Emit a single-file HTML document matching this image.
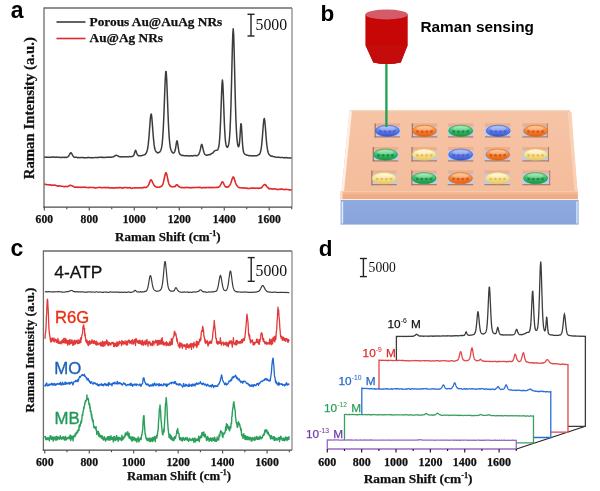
<!DOCTYPE html><html><head><meta charset="utf-8"><style>html,body{margin:0;padding:0;background:#fff;width:600px;height:491px;overflow:hidden}svg{display:block;will-change:transform}</style></head><body><svg width="600" height="491" viewBox="0 0 600 491">
<line x1="44" y1="8" x2="292" y2="8" stroke="#6a6a6a" stroke-width="1.3"/>
<line x1="292" y1="8" x2="292" y2="207.2" stroke="#8a8a8a" stroke-width="1.3"/>
<line x1="44" y1="7.4" x2="44" y2="207.79999999999998" stroke="#6a6a6a" stroke-width="1.3"/>
<line x1="43.4" y1="207.2" x2="292" y2="207.2" stroke="#4a4a4a" stroke-width="1.2"/>
<line x1="44.30" y1="207.2" x2="44.30" y2="210.6" stroke="#4a4a4a" stroke-width="1.1"/>
<text x="44.30" y="222.6" font-family="'Liberation Serif', serif" font-weight="bold" stroke="#111" stroke-width="0.25" font-size="11.6" text-anchor="middle" fill="#111">600</text>
<line x1="66.79" y1="207.2" x2="66.79" y2="209.2" stroke="#4a4a4a" stroke-width="1.1"/>
<line x1="89.28" y1="207.2" x2="89.28" y2="210.6" stroke="#4a4a4a" stroke-width="1.1"/>
<text x="89.28" y="222.6" font-family="'Liberation Serif', serif" font-weight="bold" stroke="#111" stroke-width="0.25" font-size="11.6" text-anchor="middle" fill="#111">800</text>
<line x1="111.77" y1="207.2" x2="111.77" y2="209.2" stroke="#4a4a4a" stroke-width="1.1"/>
<line x1="134.26" y1="207.2" x2="134.26" y2="210.6" stroke="#4a4a4a" stroke-width="1.1"/>
<text x="134.26" y="222.6" font-family="'Liberation Serif', serif" font-weight="bold" stroke="#111" stroke-width="0.25" font-size="11.6" text-anchor="middle" fill="#111">1000</text>
<line x1="156.75" y1="207.2" x2="156.75" y2="209.2" stroke="#4a4a4a" stroke-width="1.1"/>
<line x1="179.24" y1="207.2" x2="179.24" y2="210.6" stroke="#4a4a4a" stroke-width="1.1"/>
<text x="179.24" y="222.6" font-family="'Liberation Serif', serif" font-weight="bold" stroke="#111" stroke-width="0.25" font-size="11.6" text-anchor="middle" fill="#111">1200</text>
<line x1="201.73" y1="207.2" x2="201.73" y2="209.2" stroke="#4a4a4a" stroke-width="1.1"/>
<line x1="224.22" y1="207.2" x2="224.22" y2="210.6" stroke="#4a4a4a" stroke-width="1.1"/>
<text x="224.22" y="222.6" font-family="'Liberation Serif', serif" font-weight="bold" stroke="#111" stroke-width="0.25" font-size="11.6" text-anchor="middle" fill="#111">1400</text>
<line x1="246.71" y1="207.2" x2="246.71" y2="209.2" stroke="#4a4a4a" stroke-width="1.1"/>
<line x1="269.20" y1="207.2" x2="269.20" y2="210.6" stroke="#4a4a4a" stroke-width="1.1"/>
<text x="269.20" y="222.6" font-family="'Liberation Serif', serif" font-weight="bold" stroke="#111" stroke-width="0.25" font-size="11.6" text-anchor="middle" fill="#111">1600</text>
<line x1="291.69" y1="207.2" x2="291.69" y2="209.2" stroke="#4a4a4a" stroke-width="1.1"/>
<text x="10.8" y="17.6" font-family="'Liberation Sans', sans-serif" font-weight="bold" font-size="23" fill="#000">a</text>
<line x1="56.5" y1="22" x2="85.5" y2="22" stroke="#3c3c3c" stroke-width="1.6"/>
<line x1="56.5" y1="38.5" x2="85.5" y2="38.5" stroke="#e02a2a" stroke-width="1.6"/>
<text x="89.6" y="25.8" font-family="'Liberation Serif', serif" font-weight="bold" stroke="#111" stroke-width="0.25" font-size="13.3" fill="#111">Porous Au@AuAg NRs</text>
<text x="89.6" y="42.1" font-family="'Liberation Serif', serif" font-weight="bold" stroke="#111" stroke-width="0.25" font-size="13.3" fill="#111">Au@Ag NRs</text>
<line x1="251" y1="14.3" x2="251" y2="36" stroke="#222" stroke-width="1.4"/><line x1="247.5" y1="14.3" x2="254.5" y2="14.3" stroke="#222" stroke-width="1.4"/><line x1="247.5" y1="36" x2="254.5" y2="36" stroke="#222" stroke-width="1.4"/><text x="255.5" y="30.4" font-family="'Liberation Serif', serif" font-size="15.8" fill="#111">5000</text>
<text transform="translate(34.3,179.3) rotate(-90)" font-family="'Liberation Serif', serif" font-weight="bold" stroke="#111" stroke-width="0.25" font-size="14.8" fill="#111">Raman Intensity (a.u.)</text>
<text x="115" y="241" font-family="'Liberation Serif', serif" font-weight="bold" stroke="#111" stroke-width="0.25" font-size="13" fill="#111">Raman Shift (cm<tspan font-size="8.1" dy="-5.2">-1</tspan><tspan dy="5.2">)</tspan></text>
<path d="M44.30,157.29 44.75,157.27 45.20,157.20 45.65,157.14 46.10,157.08 46.55,157.17 47.00,157.32 47.45,157.37 47.90,157.32 48.35,157.25 48.80,157.32 49.25,157.39 49.70,157.28 50.15,157.25 50.60,157.30 51.05,157.27 51.50,157.24 51.95,157.03 52.40,157.03 52.85,156.92 53.30,157.07 53.75,157.07 54.20,157.25 54.65,157.29 55.10,157.38 55.54,157.15 55.99,157.10 56.44,157.11 56.89,157.33 57.34,157.26 57.79,157.22 58.24,157.13 58.69,157.20 59.14,157.33 59.59,157.34 60.04,157.41 60.49,157.39 60.94,157.41 61.39,157.40 61.84,157.34 62.29,157.39 62.74,157.29 63.19,157.29 63.64,157.39 64.09,157.35 64.54,157.41 64.99,157.29 65.44,157.34 65.89,157.41 66.34,157.42 66.79,157.31 67.24,157.05 67.69,156.85 68.14,156.64 68.59,156.22 69.04,155.50 69.49,154.72 69.94,153.86 70.39,153.03 70.84,152.68 71.29,152.84 71.74,153.69 72.19,154.51 72.64,155.36 73.09,156.01 73.54,156.66 73.99,157.12 74.44,157.21 74.89,157.19 75.34,157.22 75.79,157.21 76.24,157.27 76.69,157.24 77.14,157.54 77.59,157.65 78.03,157.65 78.48,157.53 78.93,157.47 79.38,157.63 79.83,157.64 80.28,157.65 80.73,157.56 81.18,157.59 81.63,157.61 82.08,157.50 82.53,157.51 82.98,157.50 83.43,157.70 83.88,157.76 84.33,157.80 84.78,157.76 85.23,157.69 85.68,157.78 86.13,157.73 86.58,157.81 87.03,157.62 87.48,157.66 87.93,157.48 88.38,157.42 88.83,157.37 89.28,157.44 89.73,157.61 90.18,157.82 90.63,157.82 91.08,157.74 91.53,157.56 91.98,157.67 92.43,157.69 92.88,157.65 93.33,157.66 93.78,157.71 94.23,157.63 94.68,157.56 95.13,157.51 95.58,157.50 96.03,157.52 96.48,157.43 96.93,157.59 97.38,157.58 97.83,157.65 98.28,157.51 98.73,157.47 99.18,157.29 99.63,157.24 100.08,157.27 100.52,157.25 100.97,157.40 101.42,157.22 101.87,157.45 102.32,157.29 102.77,157.49 103.22,157.43 103.67,157.36 104.12,157.39 104.57,157.49 105.02,157.60 105.47,157.46 105.92,157.32 106.37,157.23 106.82,157.33 107.27,157.29 107.72,157.35 108.17,157.18 108.62,157.16 109.07,157.04 109.52,157.20 109.97,157.22 110.42,157.39 110.87,157.26 111.32,157.19 111.77,157.04 112.22,156.95 112.67,156.93 113.12,156.82 113.57,156.69 114.02,156.37 114.47,156.07 114.92,155.93 115.37,155.68 115.82,155.42 116.27,155.20 116.72,155.46 117.17,155.65 117.62,155.88 118.07,155.99 118.52,156.21 118.97,156.47 119.42,156.65 119.87,156.89 120.32,156.81 120.77,156.88 121.22,156.84 121.67,156.89 122.12,156.76 122.57,156.70 123.01,156.82 123.46,156.86 123.91,156.97 124.36,156.85 124.81,156.84 125.26,156.76 125.71,156.80 126.16,156.80 126.61,156.81 127.06,156.74 127.51,156.84 127.96,156.89 128.41,156.90 128.86,156.73 129.31,156.53 129.76,156.54 130.21,156.64 130.66,156.70 131.11,156.62 131.56,156.54 132.01,156.55 132.46,156.48 132.91,156.20 133.36,155.93 133.81,155.11 134.26,154.11 134.71,152.45 135.16,150.97 135.61,150.26 136.06,151.09 136.51,152.52 136.96,153.74 137.41,154.73 137.86,155.32 138.31,155.73 138.76,155.84 139.21,155.82 139.66,155.65 140.11,155.58 140.56,155.68 141.01,155.79 141.46,155.71 141.91,155.55 142.36,155.36 142.81,155.24 143.26,155.10 143.71,154.94 144.16,154.82 144.61,154.68 145.06,154.58 145.50,154.09 145.95,153.54 146.40,152.70 146.85,151.63 147.30,150.10 147.75,147.80 148.20,144.67 148.65,140.41 149.10,135.37 149.55,129.20 150.00,123.05 150.45,117.51 150.90,114.39 151.35,114.15 151.80,117.26 152.25,122.60 152.70,128.81 153.15,134.78 153.60,139.87 154.05,144.13 154.50,147.24 154.95,149.28 155.40,150.59 155.85,151.36 156.30,151.84 156.75,152.18 157.20,152.62 157.65,152.94 158.10,152.85 158.55,152.54 159.00,152.43 159.45,152.24 159.90,151.89 160.35,151.18 160.80,150.26 161.25,148.95 161.70,146.91 162.15,143.77 162.60,139.01 163.05,132.54 163.50,123.92 163.95,113.50 164.40,101.24 164.85,88.83 165.30,77.96 165.75,71.51 166.20,71.67 166.65,78.26 167.10,89.12 167.55,101.51 168.00,113.56 168.44,123.99 168.89,132.52 169.34,138.96 169.79,143.82 170.24,146.87 170.69,148.97 171.14,150.34 171.59,151.45 172.04,152.14 172.49,152.59 172.94,152.90 173.39,152.97 173.84,152.89 174.29,152.24 174.74,151.53 175.19,150.04 175.64,147.85 176.09,144.79 176.54,141.96 176.99,140.77 177.44,142.02 177.89,144.95 178.34,148.13 178.79,150.91 179.24,152.81 179.69,153.94 180.14,154.42 180.59,154.69 181.04,155.06 181.49,155.31 181.94,155.49 182.39,155.42 182.84,155.36 183.29,155.42 183.74,155.57 184.19,155.68 184.64,155.70 185.09,155.65 185.54,155.72 185.99,155.63 186.44,155.65 186.89,155.58 187.34,155.80 187.79,155.77 188.24,155.90 188.69,155.96 189.14,156.00 189.59,155.91 190.04,155.80 190.49,155.82 190.93,155.79 191.38,155.80 191.83,155.97 192.28,156.02 192.73,155.95 193.18,155.68 193.63,155.71 194.08,155.59 194.53,155.56 194.98,155.61 195.43,155.59 195.88,155.73 196.33,155.68 196.78,155.70 197.23,155.55 197.68,155.42 198.13,155.12 198.58,154.59 199.03,153.61 199.48,152.53 199.93,151.16 200.38,149.39 200.83,147.17 201.28,145.17 201.73,144.31 202.18,145.13 202.63,146.95 203.08,149.12 203.53,151.05 203.98,152.55 204.43,153.59 204.88,154.26 205.33,154.67 205.78,154.93 206.23,155.19 206.68,155.31 207.13,155.29 207.58,154.99 208.03,154.95 208.48,154.73 208.93,154.68 209.38,154.61 209.83,154.69 210.28,154.62 210.73,154.18 211.18,153.83 211.63,153.48 212.08,153.32 212.53,153.15 212.97,152.81 213.42,152.26 213.87,151.55 214.32,151.14 214.77,150.85 215.22,150.58 215.67,150.41 216.12,150.19 216.57,150.25 217.02,150.16 217.47,150.05 217.92,149.36 218.37,148.28 218.82,146.33 219.27,143.17 219.72,138.00 220.17,130.33 220.62,119.99 221.07,107.63 221.52,94.66 221.97,84.16 222.42,79.89 222.87,83.88 223.32,94.26 223.77,107.09 224.22,119.55 224.67,129.68 225.12,137.15 225.57,142.06 226.02,144.96 226.47,146.40 226.92,147.15 227.37,147.37 227.82,146.86 228.27,145.90 228.72,144.10 229.17,141.37 229.62,136.43 230.07,129.09 230.52,118.47 230.97,104.78 231.42,87.56 231.87,68.43 232.32,49.18 232.77,34.63 233.22,28.79 233.67,34.46 234.12,49.20 234.57,68.31 235.02,87.87 235.46,105.13 235.91,119.16 236.36,129.53 236.81,136.81 237.26,141.73 237.71,144.74 238.16,146.37 238.61,146.81 239.06,145.75 239.51,142.58 239.96,136.95 240.41,129.74 240.86,123.82 241.31,124.19 241.76,130.69 242.21,138.88 242.66,145.46 243.11,149.59 243.56,152.04 244.01,153.07 244.46,153.81 244.91,154.09 245.36,154.42 245.81,154.68 246.26,154.90 246.71,155.18 247.16,155.27 247.61,155.32 248.06,155.37 248.51,155.47 248.96,155.72 249.41,155.72 249.86,155.77 250.31,155.60 250.76,155.77 251.21,155.72 251.66,155.74 252.11,155.71 252.56,155.90 253.01,155.94 253.46,155.85 253.91,155.69 254.36,155.71 254.81,155.81 255.26,155.77 255.71,155.76 256.16,155.71 256.61,155.64 257.06,155.64 257.51,155.39 257.95,155.19 258.40,154.80 258.85,154.74 259.30,154.40 259.75,153.94 260.20,152.80 260.65,151.33 261.10,149.05 261.55,146.01 262.00,141.64 262.45,136.23 262.90,130.07 263.35,124.25 263.80,119.99 264.25,118.45 264.70,120.21 265.15,124.51 265.60,130.24 266.05,136.39 266.50,141.57 266.95,145.95 267.40,148.98 267.85,151.59 268.30,153.00 268.75,154.08 269.20,154.54 269.65,155.01 270.10,155.48 270.55,155.93 271.00,156.18 271.45,156.17 271.90,156.08 272.35,156.21 272.80,156.39 273.25,156.64 273.70,156.75 274.15,156.74 274.60,156.81 275.05,156.88 275.50,157.14 275.95,157.36 276.40,157.40 276.85,157.28 277.30,157.16 277.75,157.17 278.20,157.21 278.65,157.25 279.10,157.25 279.55,157.40 280.00,157.43 280.44,157.57 280.89,157.53 281.34,157.51 281.79,157.44 282.24,157.46 282.69,157.51 283.14,157.63 283.59,157.68 284.04,157.64 284.49,157.65 284.94,157.56 285.39,157.65 285.84,157.64 286.29,157.60 286.74,157.68 287.19,157.74 287.64,157.93 288.09,157.91 288.54,157.88 288.99,157.84 289.44,157.87 289.89,157.88 290.34,157.99 290.79,157.93 291.24,158.02 291.69,158.03" fill="none" stroke="#3c3c3c" stroke-width="1.5" stroke-linejoin="round"/>
<path d="M44.30,184.29 44.75,184.30 45.20,184.39 45.65,184.29 46.10,184.43 46.55,184.45 47.00,184.69 47.45,184.73 47.90,184.69 48.35,184.69 48.80,184.76 49.25,184.92 49.70,185.02 50.15,184.85 50.60,184.91 51.05,185.06 51.50,185.36 51.95,185.38 52.40,185.16 52.85,185.20 53.30,185.21 53.75,185.16 54.20,185.16 54.65,185.07 55.10,185.24 55.54,185.19 55.99,185.52 56.44,185.66 56.89,185.80 57.34,185.90 57.79,186.14 58.24,186.15 58.69,186.00 59.14,185.77 59.59,185.76 60.04,185.87 60.49,186.09 60.94,186.22 61.39,186.32 61.84,186.25 62.29,186.28 62.74,186.30 63.19,186.48 63.64,186.64 64.09,186.65 64.54,186.61 64.99,186.58 65.44,186.48 65.89,186.38 66.34,186.43 66.79,186.55 67.24,186.71 67.69,186.41 68.14,186.28 68.59,186.04 69.04,185.93 69.49,185.52 69.94,185.32 70.39,185.32 70.84,185.52 71.29,185.58 71.74,185.70 72.19,185.99 72.64,186.03 73.09,186.24 73.54,186.39 73.99,186.86 74.44,187.14 74.89,187.26 75.34,187.27 75.79,187.16 76.24,187.16 76.69,187.10 77.14,187.08 77.59,187.12 78.03,187.38 78.48,187.39 78.93,187.31 79.38,187.15 79.83,187.32 80.28,187.34 80.73,187.48 81.18,187.27 81.63,187.27 82.08,187.12 82.53,187.31 82.98,187.44 83.43,187.33 83.88,187.17 84.33,187.12 84.78,187.22 85.23,187.17 85.68,187.25 86.13,187.38 86.58,187.60 87.03,187.46 87.48,187.53 87.93,187.47 88.38,187.64 88.83,187.46 89.28,187.42 89.73,187.33 90.18,187.36 90.63,187.52 91.08,187.53 91.53,187.51 91.98,187.45 92.43,187.40 92.88,187.59 93.33,187.52 93.78,187.52 94.23,187.55 94.68,187.84 95.13,188.09 95.58,187.98 96.03,187.79 96.48,187.75 96.93,187.73 97.38,187.62 97.83,187.48 98.28,187.54 98.73,187.56 99.18,187.39 99.63,187.21 100.08,187.36 100.52,187.45 100.97,187.59 101.42,187.55 101.87,187.69 102.32,187.68 102.77,187.71 103.22,187.56 103.67,187.57 104.12,187.42 104.57,187.63 105.02,187.66 105.47,187.70 105.92,187.55 106.37,187.54 106.82,187.69 107.27,187.57 107.72,187.49 108.17,187.39 108.62,187.81 109.07,188.01 109.52,188.04 109.97,187.86 110.42,187.98 110.87,187.97 111.32,187.87 111.77,187.79 112.22,187.87 112.67,187.97 113.12,187.81 113.57,187.95 114.02,188.06 114.47,188.17 114.92,188.05 115.37,187.69 115.82,187.70 116.27,187.61 116.72,187.86 117.17,187.87 117.62,187.86 118.07,187.66 118.52,187.63 118.97,187.59 119.42,187.73 119.87,187.64 120.32,187.68 120.77,187.49 121.22,187.68 121.67,187.74 122.12,188.09 122.57,188.17 123.01,188.15 123.46,187.86 123.91,187.58 124.36,187.46 124.81,187.59 125.26,187.69 125.71,187.62 126.16,187.71 126.61,187.55 127.06,187.78 127.51,187.74 127.96,187.87 128.41,187.83 128.86,187.79 129.31,187.77 129.76,187.61 130.21,187.66 130.66,187.91 131.11,188.28 131.56,188.42 132.01,188.31 132.46,188.04 132.91,188.06 133.36,187.98 133.81,188.05 134.26,187.87 134.71,187.88 135.16,187.84 135.61,187.85 136.06,187.73 136.51,187.72 136.96,187.95 137.41,188.05 137.86,188.05 138.31,187.86 138.76,187.93 139.21,187.83 139.66,187.75 140.11,187.75 140.56,187.88 141.01,187.89 141.46,187.94 141.91,187.83 142.36,187.80 142.81,187.57 143.26,187.76 143.71,187.52 144.16,187.47 144.61,187.23 145.06,187.43 145.50,187.49 145.95,187.59 146.40,187.22 146.85,187.04 147.30,186.57 147.75,186.22 148.20,185.59 148.65,184.73 149.10,183.61 149.55,182.39 150.00,181.17 150.45,180.31 150.90,179.78 151.35,179.95 151.80,180.76 152.25,181.68 152.70,182.63 153.15,183.50 153.60,184.39 154.05,185.20 154.50,185.90 154.95,186.33 155.40,186.53 155.85,186.73 156.30,186.89 156.75,187.18 157.20,187.15 157.65,187.23 158.10,187.19 158.55,187.29 159.00,187.23 159.45,187.21 159.90,187.05 160.35,186.75 160.80,186.54 161.25,186.23 161.70,186.03 162.15,185.36 162.60,184.74 163.05,183.60 163.50,182.12 163.95,179.94 164.40,177.78 164.85,175.72 165.30,173.94 165.75,172.85 166.20,172.79 166.65,174.04 167.10,175.84 167.55,178.07 168.00,180.23 168.44,182.41 168.89,183.80 169.34,184.79 169.79,185.25 170.24,185.98 170.69,186.28 171.14,186.55 171.59,186.63 172.04,186.75 172.49,186.78 172.94,186.78 173.39,186.69 173.84,186.62 174.29,186.55 174.74,186.60 175.19,186.42 175.64,185.82 176.09,185.19 176.54,184.76 176.99,184.77 177.44,185.06 177.89,185.45 178.34,186.06 178.79,186.50 179.24,186.82 179.69,186.89 180.14,187.21 180.59,187.42 181.04,187.66 181.49,187.49 181.94,187.59 182.39,187.42 182.84,187.47 183.29,187.63 183.74,187.78 184.19,187.75 184.64,187.50 185.09,187.46 185.54,187.63 185.99,187.60 186.44,187.39 186.89,187.24 187.34,187.29 187.79,187.48 188.24,187.64 188.69,187.67 189.14,187.74 189.59,187.50 190.04,187.55 190.49,187.68 190.93,187.86 191.38,187.80 191.83,187.61 192.28,187.71 192.73,187.59 193.18,187.56 193.63,187.42 194.08,187.59 194.53,187.55 194.98,187.53 195.43,187.43 195.88,187.48 196.33,187.44 196.78,187.35 197.23,187.33 197.68,187.43 198.13,187.44 198.58,187.42 199.03,187.39 199.48,187.38 199.93,187.42 200.38,187.24 200.83,187.46 201.28,187.66 201.73,187.97 202.18,187.84 202.63,187.69 203.08,187.51 203.53,187.55 203.98,187.63 204.43,187.50 204.88,187.60 205.33,187.44 205.78,187.72 206.23,187.64 206.68,187.58 207.13,187.48 207.58,187.54 208.03,187.61 208.48,187.64 208.93,187.52 209.38,187.30 209.83,187.35 210.28,187.47 210.73,187.70 211.18,187.62 211.63,187.66 212.08,187.60 212.53,187.52 212.97,187.39 213.42,187.55 213.87,187.48 214.32,187.61 214.77,187.42 215.22,187.44 215.67,187.43 216.12,187.46 216.57,187.42 217.02,187.22 217.47,187.27 217.92,187.44 218.37,187.31 218.82,187.07 219.27,186.72 219.72,186.25 220.17,185.62 220.62,184.74 221.07,183.83 221.52,182.80 221.97,182.07 222.42,181.83 222.87,182.10 223.32,182.78 223.77,183.81 224.22,184.79 224.67,185.70 225.12,186.31 225.57,186.76 226.02,187.16 226.47,187.10 226.92,187.17 227.37,186.90 227.82,187.08 228.27,187.00 228.72,186.57 229.17,185.88 229.62,185.20 230.07,184.70 230.52,183.87 230.97,182.58 231.42,181.18 231.87,179.74 232.32,178.44 232.77,177.56 233.22,176.93 233.67,177.37 234.12,178.13 234.57,179.78 235.02,181.15 235.46,182.56 235.91,183.74 236.36,184.71 236.81,185.52 237.26,185.94 237.71,186.48 238.16,186.93 238.61,187.41 239.06,187.56 239.51,187.73 239.96,187.72 240.41,187.79 240.86,187.80 241.31,187.96 241.76,187.97 242.21,187.93 242.66,187.84 243.11,187.91 243.56,187.88 244.01,188.02 244.46,188.00 244.91,188.15 245.36,187.99 245.81,188.08 246.26,188.09 246.71,188.15 247.16,188.34 247.61,188.36 248.06,188.60 248.51,188.51 248.96,188.43 249.41,188.23 249.86,188.19 250.31,188.28 250.76,188.34 251.21,188.29 251.66,188.12 252.11,188.10 252.56,187.92 253.01,188.15 253.46,188.12 253.91,188.28 254.36,188.23 254.81,188.34 255.26,188.28 255.71,188.13 256.16,188.00 256.61,187.94 257.06,188.02 257.51,188.28 257.95,188.37 258.40,188.52 258.85,188.20 259.30,188.29 259.75,188.12 260.20,188.14 260.65,188.01 261.10,187.98 261.55,187.70 262.00,187.25 262.45,186.49 262.90,185.97 263.35,185.36 263.80,185.02 264.25,184.58 264.70,184.65 265.15,184.53 265.60,184.91 266.05,185.38 266.50,186.15 266.95,186.69 267.40,187.09 267.85,187.42 268.30,187.86 268.75,188.39 269.20,188.84 269.65,188.86 270.10,188.63 270.55,188.55 271.00,188.82 271.45,188.87 271.90,188.88 272.35,188.91 272.80,189.11 273.25,189.17 273.70,189.00 274.15,188.78 274.60,188.77 275.05,188.69 275.50,188.94 275.95,188.97 276.40,189.26 276.85,189.39 277.30,189.59 277.75,189.45 278.20,189.37 278.65,189.38 279.10,189.44 279.55,189.28 280.00,189.17 280.44,189.10 280.89,189.36 281.34,189.15 281.79,189.22 282.24,189.06 282.69,189.29 283.14,189.44 283.59,189.51 284.04,189.53 284.49,189.64 284.94,189.41 285.39,189.45 285.84,189.28 286.29,189.53 286.74,189.56 287.19,189.56 287.64,189.50 288.09,189.57 288.54,189.71 288.99,189.73 289.44,189.87 289.89,190.08 290.34,190.02 290.79,189.86 291.24,189.89 291.69,190.06" fill="none" stroke="#e02a2a" stroke-width="1.6" stroke-linejoin="round"/>
<text x="320.6" y="20.7" font-family="'Liberation Sans', sans-serif" font-weight="bold" font-size="22.5" fill="#000">b</text>
<text x="420.5" y="32.1" font-family="'Liberation Sans', sans-serif" font-weight="bold" font-size="15.35" fill="#000">Raman sensing</text>
<defs><linearGradient id="top" x1="0" y1="0" x2="0" y2="1"><stop offset="0" stop-color="#f6c4a6"/><stop offset="1" stop-color="#f4bd9c"/></linearGradient><linearGradient id="sub" x1="0" y1="0" x2="0" y2="1"><stop offset="0" stop-color="#8eaadf"/><stop offset="1" stop-color="#88a4da"/></linearGradient><linearGradient id="front" x1="0" y1="0" x2="0" y2="1"><stop offset="0" stop-color="#f7c09c"/><stop offset="0.5" stop-color="#f2ae86"/><stop offset="1" stop-color="#f0a87e"/></linearGradient></defs>
<polygon points="341.5,191.5 349.5,110 570,110 577.5,191.5" fill="url(#top)"/>
<polygon points="349.5,110 352,110.5 344,191.5 341.5,191.5" fill="#fdf0e6"/>
<polygon points="567.8,112 571.5,112 577.5,191.5 574.5,191.5" fill="#f9d2b6"/>
<line x1="350" y1="110.6" x2="569.5" y2="110.6" stroke="#fad6bd" stroke-width="1.2"/>
<rect x="340.3" y="191.3" width="237.6" height="7.8" fill="url(#front)"/>
<rect x="340.3" y="191.3" width="2.2" height="7.8" fill="#fde2c8"/>
<rect x="340.6" y="199.9" width="238" height="24.7" fill="url(#sub)"/>
<rect x="341.6" y="201.5" width="1.6" height="22" fill="#dcebfb"/>
<rect x="576.2" y="201.5" width="1.4" height="22" fill="#d8e6fa"/>
<rect x="374.7" y="123.4" width="25.4" height="14.0" fill="#bccbee"/>
<rect x="374.7" y="123.4" width="25.4" height="3.2" fill="#eeae8a"/>
<line x1="374.7" y1="136.9" x2="400.1" y2="136.9" stroke="#b0704c" stroke-width="1.1"/>
<line x1="375.2" y1="123.4" x2="375.2" y2="137.4" stroke="#a8684a" stroke-width="1.1"/>
<ellipse cx="387.4" cy="130.8" rx="12" ry="5.6" fill="url(#e0)" stroke="#3556cc" stroke-width="0.6"/>
<ellipse cx="387.4" cy="128.6" rx="8" ry="2.2" fill="#fff" opacity="0.28"/>
<circle cx="380.5" cy="131.6" r="1.35" fill="#6a4ac0" opacity="0.75"/>
<circle cx="385.1" cy="131.6" r="1.35" fill="#6a4ac0" opacity="0.75"/>
<circle cx="389.7" cy="131.6" r="1.35" fill="#6a4ac0" opacity="0.75"/>
<circle cx="394.3" cy="131.6" r="1.35" fill="#6a4ac0" opacity="0.75"/>
<rect x="411.8" y="123.4" width="25.4" height="14.0" fill="#bccbee"/>
<rect x="411.8" y="123.4" width="25.4" height="3.2" fill="#eeae8a"/>
<line x1="411.8" y1="136.9" x2="437.2" y2="136.9" stroke="#b0704c" stroke-width="1.1"/>
<line x1="412.3" y1="123.4" x2="412.3" y2="137.4" stroke="#a8684a" stroke-width="1.1"/>
<ellipse cx="424.5" cy="130.8" rx="12" ry="5.6" fill="url(#e1)" stroke="#e2600f" stroke-width="0.6"/>
<ellipse cx="424.5" cy="128.6" rx="8" ry="2.2" fill="#fff" opacity="0.28"/>
<circle cx="417.6" cy="131.6" r="1.35" fill="#d84418" opacity="0.75"/>
<circle cx="422.2" cy="131.6" r="1.35" fill="#d84418" opacity="0.75"/>
<circle cx="426.8" cy="131.6" r="1.35" fill="#d84418" opacity="0.75"/>
<circle cx="431.4" cy="131.6" r="1.35" fill="#d84418" opacity="0.75"/>
<rect x="448.0" y="123.4" width="25.4" height="14.0" fill="#bccbee"/>
<rect x="448.0" y="123.4" width="25.4" height="3.2" fill="#eeae8a"/>
<line x1="448.0" y1="136.9" x2="473.4" y2="136.9" stroke="#b0704c" stroke-width="1.1"/>
<ellipse cx="460.7" cy="130.8" rx="12" ry="5.6" fill="url(#e2)" stroke="#1a9242" stroke-width="0.6"/>
<ellipse cx="460.7" cy="128.6" rx="8" ry="2.2" fill="#fff" opacity="0.28"/>
<circle cx="453.8" cy="131.6" r="1.35" fill="#1c7a40" opacity="0.75"/>
<circle cx="458.4" cy="131.6" r="1.35" fill="#1c7a40" opacity="0.75"/>
<circle cx="463.0" cy="131.6" r="1.35" fill="#1c7a40" opacity="0.75"/>
<circle cx="467.6" cy="131.6" r="1.35" fill="#1c7a40" opacity="0.75"/>
<rect x="485.0" y="123.4" width="25.4" height="14.0" fill="#bccbee"/>
<rect x="485.0" y="123.4" width="25.4" height="3.2" fill="#eeae8a"/>
<line x1="485.0" y1="136.9" x2="510.4" y2="136.9" stroke="#b0704c" stroke-width="1.1"/>
<ellipse cx="498.2" cy="130.8" rx="12" ry="5.6" fill="url(#e3)" stroke="#3556cc" stroke-width="0.6"/>
<ellipse cx="498.2" cy="128.6" rx="8" ry="2.2" fill="#fff" opacity="0.28"/>
<circle cx="491.3" cy="131.6" r="1.35" fill="#6a4ac0" opacity="0.75"/>
<circle cx="495.9" cy="131.6" r="1.35" fill="#6a4ac0" opacity="0.75"/>
<circle cx="500.5" cy="131.6" r="1.35" fill="#6a4ac0" opacity="0.75"/>
<circle cx="505.1" cy="131.6" r="1.35" fill="#6a4ac0" opacity="0.75"/>
<rect x="522.4" y="123.4" width="25.4" height="14.0" fill="#bccbee"/>
<rect x="522.4" y="123.4" width="25.4" height="3.2" fill="#eeae8a"/>
<line x1="522.4" y1="136.9" x2="547.8" y2="136.9" stroke="#b0704c" stroke-width="1.1"/>
<line x1="547.3" y1="123.4" x2="547.3" y2="137.4" stroke="#b8785a" stroke-width="1"/>
<ellipse cx="535.6" cy="130.8" rx="12" ry="5.6" fill="url(#e4)" stroke="#e2600f" stroke-width="0.6"/>
<ellipse cx="535.6" cy="128.6" rx="8" ry="2.2" fill="#fff" opacity="0.28"/>
<circle cx="528.7" cy="131.6" r="1.35" fill="#d84418" opacity="0.75"/>
<circle cx="533.3" cy="131.6" r="1.35" fill="#d84418" opacity="0.75"/>
<circle cx="537.9" cy="131.6" r="1.35" fill="#d84418" opacity="0.75"/>
<circle cx="542.5" cy="131.6" r="1.35" fill="#d84418" opacity="0.75"/>
<rect x="372.8" y="147" width="25.4" height="14.4" fill="#bccbee"/>
<rect x="372.8" y="147" width="25.4" height="3.2" fill="#eeae8a"/>
<line x1="372.8" y1="160.9" x2="398.2" y2="160.9" stroke="#b0704c" stroke-width="1.1"/>
<line x1="373.3" y1="147.0" x2="373.3" y2="161.4" stroke="#a8684a" stroke-width="1.1"/>
<ellipse cx="385.5" cy="154.6" rx="12" ry="5.6" fill="url(#e5)" stroke="#1a9242" stroke-width="0.6"/>
<ellipse cx="385.5" cy="152.4" rx="8" ry="2.2" fill="#fff" opacity="0.28"/>
<circle cx="378.6" cy="155.4" r="1.35" fill="#1c7a40" opacity="0.75"/>
<circle cx="383.2" cy="155.4" r="1.35" fill="#1c7a40" opacity="0.75"/>
<circle cx="387.8" cy="155.4" r="1.35" fill="#1c7a40" opacity="0.75"/>
<circle cx="392.4" cy="155.4" r="1.35" fill="#1c7a40" opacity="0.75"/>
<rect x="411.6" y="147" width="25.4" height="14.4" fill="#bccbee"/>
<rect x="411.6" y="147" width="25.4" height="3.2" fill="#eeae8a"/>
<line x1="411.6" y1="160.9" x2="437.0" y2="160.9" stroke="#b0704c" stroke-width="1.1"/>
<line x1="412.1" y1="147.0" x2="412.1" y2="161.4" stroke="#a8684a" stroke-width="1.1"/>
<ellipse cx="424.3" cy="154.6" rx="12" ry="5.6" fill="url(#e6)" stroke="#ebc85a" stroke-width="0.6"/>
<ellipse cx="424.3" cy="152.4" rx="8" ry="2.2" fill="#fff" opacity="0.28"/>
<circle cx="417.4" cy="155.4" r="1.35" fill="#f0a850" opacity="0.75"/>
<circle cx="422.0" cy="155.4" r="1.35" fill="#f0a850" opacity="0.75"/>
<circle cx="426.6" cy="155.4" r="1.35" fill="#f0a850" opacity="0.75"/>
<circle cx="431.2" cy="155.4" r="1.35" fill="#f0a850" opacity="0.75"/>
<rect x="448.0" y="147" width="25.4" height="14.4" fill="#bccbee"/>
<rect x="448.0" y="147" width="25.4" height="3.2" fill="#eeae8a"/>
<line x1="448.0" y1="160.9" x2="473.4" y2="160.9" stroke="#b0704c" stroke-width="1.1"/>
<ellipse cx="460.7" cy="154.6" rx="12" ry="5.6" fill="url(#e7)" stroke="#3556cc" stroke-width="0.6"/>
<ellipse cx="460.7" cy="152.4" rx="8" ry="2.2" fill="#fff" opacity="0.28"/>
<circle cx="453.8" cy="155.4" r="1.35" fill="#6a4ac0" opacity="0.75"/>
<circle cx="458.4" cy="155.4" r="1.35" fill="#6a4ac0" opacity="0.75"/>
<circle cx="463.0" cy="155.4" r="1.35" fill="#6a4ac0" opacity="0.75"/>
<circle cx="467.6" cy="155.4" r="1.35" fill="#6a4ac0" opacity="0.75"/>
<rect x="484.6" y="147" width="25.4" height="14.4" fill="#bccbee"/>
<rect x="484.6" y="147" width="25.4" height="3.2" fill="#eeae8a"/>
<line x1="484.6" y1="160.9" x2="510.0" y2="160.9" stroke="#b0704c" stroke-width="1.1"/>
<ellipse cx="497.8" cy="154.6" rx="12" ry="5.6" fill="url(#e8)" stroke="#e2600f" stroke-width="0.6"/>
<ellipse cx="497.8" cy="152.4" rx="8" ry="2.2" fill="#fff" opacity="0.28"/>
<circle cx="490.9" cy="155.4" r="1.35" fill="#d84418" opacity="0.75"/>
<circle cx="495.5" cy="155.4" r="1.35" fill="#d84418" opacity="0.75"/>
<circle cx="500.1" cy="155.4" r="1.35" fill="#d84418" opacity="0.75"/>
<circle cx="504.7" cy="155.4" r="1.35" fill="#d84418" opacity="0.75"/>
<rect x="522.4" y="147" width="26.6" height="14.4" fill="#bccbee"/>
<rect x="522.4" y="147" width="26.6" height="3.2" fill="#eeae8a"/>
<line x1="522.4" y1="160.9" x2="549.0" y2="160.9" stroke="#b0704c" stroke-width="1.1"/>
<line x1="548.5" y1="147.0" x2="548.5" y2="161.4" stroke="#b8785a" stroke-width="1"/>
<ellipse cx="535.6" cy="154.6" rx="12" ry="5.6" fill="url(#e9)" stroke="#ebc85a" stroke-width="0.6"/>
<ellipse cx="535.6" cy="152.4" rx="8" ry="2.2" fill="#fff" opacity="0.28"/>
<circle cx="528.7" cy="155.4" r="1.35" fill="#f0a850" opacity="0.75"/>
<circle cx="533.3" cy="155.4" r="1.35" fill="#f0a850" opacity="0.75"/>
<circle cx="537.9" cy="155.4" r="1.35" fill="#f0a850" opacity="0.75"/>
<circle cx="542.5" cy="155.4" r="1.35" fill="#f0a850" opacity="0.75"/>
<rect x="371.4" y="170.4" width="25.4" height="14.8" fill="#bccbee"/>
<rect x="371.4" y="170.4" width="25.4" height="3.2" fill="#eeae8a"/>
<line x1="371.4" y1="184.7" x2="396.8" y2="184.7" stroke="#b0704c" stroke-width="1.1"/>
<line x1="371.9" y1="170.4" x2="371.9" y2="185.2" stroke="#a8684a" stroke-width="1.1"/>
<ellipse cx="384.1" cy="178.2" rx="12" ry="5.6" fill="url(#e10)" stroke="#ebc85a" stroke-width="0.6"/>
<ellipse cx="384.1" cy="176.0" rx="8" ry="2.2" fill="#fff" opacity="0.28"/>
<circle cx="377.2" cy="179.0" r="1.35" fill="#f0a850" opacity="0.75"/>
<circle cx="381.8" cy="179.0" r="1.35" fill="#f0a850" opacity="0.75"/>
<circle cx="386.4" cy="179.0" r="1.35" fill="#f0a850" opacity="0.75"/>
<circle cx="391.0" cy="179.0" r="1.35" fill="#f0a850" opacity="0.75"/>
<rect x="411.4" y="170.4" width="25.4" height="14.8" fill="#bccbee"/>
<rect x="411.4" y="170.4" width="25.4" height="3.2" fill="#eeae8a"/>
<line x1="411.4" y1="184.7" x2="436.8" y2="184.7" stroke="#b0704c" stroke-width="1.1"/>
<line x1="411.9" y1="170.4" x2="411.9" y2="185.2" stroke="#a8684a" stroke-width="1.1"/>
<ellipse cx="424.1" cy="178.2" rx="12" ry="5.6" fill="url(#e11)" stroke="#1a9242" stroke-width="0.6"/>
<ellipse cx="424.1" cy="176.0" rx="8" ry="2.2" fill="#fff" opacity="0.28"/>
<circle cx="417.2" cy="179.0" r="1.35" fill="#1c7a40" opacity="0.75"/>
<circle cx="421.8" cy="179.0" r="1.35" fill="#1c7a40" opacity="0.75"/>
<circle cx="426.4" cy="179.0" r="1.35" fill="#1c7a40" opacity="0.75"/>
<circle cx="431.0" cy="179.0" r="1.35" fill="#1c7a40" opacity="0.75"/>
<rect x="447.8" y="170.4" width="25.4" height="14.8" fill="#bccbee"/>
<rect x="447.8" y="170.4" width="25.4" height="3.2" fill="#eeae8a"/>
<line x1="447.8" y1="184.7" x2="473.2" y2="184.7" stroke="#b0704c" stroke-width="1.1"/>
<ellipse cx="460.5" cy="178.2" rx="12" ry="5.6" fill="url(#e12)" stroke="#e2600f" stroke-width="0.6"/>
<ellipse cx="460.5" cy="176.0" rx="8" ry="2.2" fill="#fff" opacity="0.28"/>
<circle cx="453.6" cy="179.0" r="1.35" fill="#d84418" opacity="0.75"/>
<circle cx="458.2" cy="179.0" r="1.35" fill="#d84418" opacity="0.75"/>
<circle cx="462.8" cy="179.0" r="1.35" fill="#d84418" opacity="0.75"/>
<circle cx="467.4" cy="179.0" r="1.35" fill="#d84418" opacity="0.75"/>
<rect x="484.4" y="170.4" width="25.4" height="14.8" fill="#bccbee"/>
<rect x="484.4" y="170.4" width="25.4" height="3.2" fill="#eeae8a"/>
<line x1="484.4" y1="184.7" x2="509.8" y2="184.7" stroke="#b0704c" stroke-width="1.1"/>
<ellipse cx="497.6" cy="178.2" rx="12" ry="5.6" fill="url(#e13)" stroke="#ebc85a" stroke-width="0.6"/>
<ellipse cx="497.6" cy="176.0" rx="8" ry="2.2" fill="#fff" opacity="0.28"/>
<circle cx="490.7" cy="179.0" r="1.35" fill="#f0a850" opacity="0.75"/>
<circle cx="495.3" cy="179.0" r="1.35" fill="#f0a850" opacity="0.75"/>
<circle cx="499.9" cy="179.0" r="1.35" fill="#f0a850" opacity="0.75"/>
<circle cx="504.5" cy="179.0" r="1.35" fill="#f0a850" opacity="0.75"/>
<rect x="522.4" y="170.4" width="27.8" height="14.8" fill="#bccbee"/>
<rect x="522.4" y="170.4" width="27.8" height="3.2" fill="#eeae8a"/>
<line x1="522.4" y1="184.7" x2="550.2" y2="184.7" stroke="#b0704c" stroke-width="1.1"/>
<line x1="549.7" y1="170.4" x2="549.7" y2="185.2" stroke="#b8785a" stroke-width="1"/>
<ellipse cx="535.6" cy="178.2" rx="12" ry="5.6" fill="url(#e14)" stroke="#1a9242" stroke-width="0.6"/>
<ellipse cx="535.6" cy="176.0" rx="8" ry="2.2" fill="#fff" opacity="0.28"/>
<circle cx="528.7" cy="179.0" r="1.35" fill="#1c7a40" opacity="0.75"/>
<circle cx="533.3" cy="179.0" r="1.35" fill="#1c7a40" opacity="0.75"/>
<circle cx="537.9" cy="179.0" r="1.35" fill="#1c7a40" opacity="0.75"/>
<circle cx="542.5" cy="179.0" r="1.35" fill="#1c7a40" opacity="0.75"/>
<defs><linearGradient id="e0" x1="0" y1="0" x2="0" y2="1"><stop offset="0" stop-color="#a8c0f8"/><stop offset="0.45" stop-color="#5f86ea"/><stop offset="1" stop-color="#3556cc"/></linearGradient><linearGradient id="e1" x1="0" y1="0" x2="0" y2="1"><stop offset="0" stop-color="#fbc890"/><stop offset="0.45" stop-color="#f3893a"/><stop offset="1" stop-color="#e2600f"/></linearGradient><linearGradient id="e2" x1="0" y1="0" x2="0" y2="1"><stop offset="0" stop-color="#a0ecb8"/><stop offset="0.45" stop-color="#3cc06a"/><stop offset="1" stop-color="#1a9242"/></linearGradient><linearGradient id="e3" x1="0" y1="0" x2="0" y2="1"><stop offset="0" stop-color="#a8c0f8"/><stop offset="0.45" stop-color="#5f86ea"/><stop offset="1" stop-color="#3556cc"/></linearGradient><linearGradient id="e4" x1="0" y1="0" x2="0" y2="1"><stop offset="0" stop-color="#fbc890"/><stop offset="0.45" stop-color="#f3893a"/><stop offset="1" stop-color="#e2600f"/></linearGradient><linearGradient id="e5" x1="0" y1="0" x2="0" y2="1"><stop offset="0" stop-color="#a0ecb8"/><stop offset="0.45" stop-color="#3cc06a"/><stop offset="1" stop-color="#1a9242"/></linearGradient><linearGradient id="e6" x1="0" y1="0" x2="0" y2="1"><stop offset="0" stop-color="#fffbd8"/><stop offset="0.45" stop-color="#f6e69a"/><stop offset="1" stop-color="#ebc85a"/></linearGradient><linearGradient id="e7" x1="0" y1="0" x2="0" y2="1"><stop offset="0" stop-color="#a8c0f8"/><stop offset="0.45" stop-color="#5f86ea"/><stop offset="1" stop-color="#3556cc"/></linearGradient><linearGradient id="e8" x1="0" y1="0" x2="0" y2="1"><stop offset="0" stop-color="#fbc890"/><stop offset="0.45" stop-color="#f3893a"/><stop offset="1" stop-color="#e2600f"/></linearGradient><linearGradient id="e9" x1="0" y1="0" x2="0" y2="1"><stop offset="0" stop-color="#fffbd8"/><stop offset="0.45" stop-color="#f6e69a"/><stop offset="1" stop-color="#ebc85a"/></linearGradient><linearGradient id="e10" x1="0" y1="0" x2="0" y2="1"><stop offset="0" stop-color="#fffbd8"/><stop offset="0.45" stop-color="#f6e69a"/><stop offset="1" stop-color="#ebc85a"/></linearGradient><linearGradient id="e11" x1="0" y1="0" x2="0" y2="1"><stop offset="0" stop-color="#a0ecb8"/><stop offset="0.45" stop-color="#3cc06a"/><stop offset="1" stop-color="#1a9242"/></linearGradient><linearGradient id="e12" x1="0" y1="0" x2="0" y2="1"><stop offset="0" stop-color="#fbc890"/><stop offset="0.45" stop-color="#f3893a"/><stop offset="1" stop-color="#e2600f"/></linearGradient><linearGradient id="e13" x1="0" y1="0" x2="0" y2="1"><stop offset="0" stop-color="#fffbd8"/><stop offset="0.45" stop-color="#f6e69a"/><stop offset="1" stop-color="#ebc85a"/></linearGradient><linearGradient id="e14" x1="0" y1="0" x2="0" y2="1"><stop offset="0" stop-color="#a0ecb8"/><stop offset="0.45" stop-color="#3cc06a"/><stop offset="1" stop-color="#1a9242"/></linearGradient></defs>
<line x1="386.4" y1="62" x2="386.4" y2="127" stroke="#1ea052" stroke-width="2.3"/>
<path d="M365.4,14.5 L407.7,14.5 L407.7,45 L400.8,62.6 Q386.6,65.6 373.3,62.6 L365.4,45 Z" fill="#c70606"/>
<path d="M365.4,45 L407.7,45 L400.8,62.6 Q386.6,65.6 373.3,62.6 Z" fill="#c40c0c"/>
<ellipse cx="386.55" cy="14.5" rx="21.15" ry="5" fill="#d45c68"/>
<line x1="43.4" y1="251" x2="292" y2="251" stroke="#6a6a6a" stroke-width="1.3"/>
<line x1="292" y1="251" x2="292" y2="450.2" stroke="#8a8a8a" stroke-width="1.3"/>
<line x1="43.4" y1="250.4" x2="43.4" y2="450.8" stroke="#6a6a6a" stroke-width="1.3"/>
<line x1="42.8" y1="450.2" x2="292" y2="450.2" stroke="#4a4a4a" stroke-width="1.2"/>
<line x1="44.80" y1="450.2" x2="44.80" y2="453.59999999999997" stroke="#4a4a4a" stroke-width="1.1"/>
<text x="44.80" y="466.2" font-family="'Liberation Serif', serif" font-weight="bold" stroke="#111" stroke-width="0.25" font-size="11.8" text-anchor="middle" fill="#111">600</text>
<line x1="67.03" y1="450.2" x2="67.03" y2="452.2" stroke="#4a4a4a" stroke-width="1.1"/>
<line x1="89.26" y1="450.2" x2="89.26" y2="453.59999999999997" stroke="#4a4a4a" stroke-width="1.1"/>
<text x="89.26" y="466.2" font-family="'Liberation Serif', serif" font-weight="bold" stroke="#111" stroke-width="0.25" font-size="11.8" text-anchor="middle" fill="#111">800</text>
<line x1="111.49" y1="450.2" x2="111.49" y2="452.2" stroke="#4a4a4a" stroke-width="1.1"/>
<line x1="133.72" y1="450.2" x2="133.72" y2="453.59999999999997" stroke="#4a4a4a" stroke-width="1.1"/>
<text x="133.72" y="466.2" font-family="'Liberation Serif', serif" font-weight="bold" stroke="#111" stroke-width="0.25" font-size="11.8" text-anchor="middle" fill="#111">1000</text>
<line x1="155.95" y1="450.2" x2="155.95" y2="452.2" stroke="#4a4a4a" stroke-width="1.1"/>
<line x1="178.18" y1="450.2" x2="178.18" y2="453.59999999999997" stroke="#4a4a4a" stroke-width="1.1"/>
<text x="178.18" y="466.2" font-family="'Liberation Serif', serif" font-weight="bold" stroke="#111" stroke-width="0.25" font-size="11.8" text-anchor="middle" fill="#111">1200</text>
<line x1="200.41" y1="450.2" x2="200.41" y2="452.2" stroke="#4a4a4a" stroke-width="1.1"/>
<line x1="222.64" y1="450.2" x2="222.64" y2="453.59999999999997" stroke="#4a4a4a" stroke-width="1.1"/>
<text x="222.64" y="466.2" font-family="'Liberation Serif', serif" font-weight="bold" stroke="#111" stroke-width="0.25" font-size="11.8" text-anchor="middle" fill="#111">1400</text>
<line x1="244.87" y1="450.2" x2="244.87" y2="452.2" stroke="#4a4a4a" stroke-width="1.1"/>
<line x1="267.10" y1="450.2" x2="267.10" y2="453.59999999999997" stroke="#4a4a4a" stroke-width="1.1"/>
<text x="267.10" y="466.2" font-family="'Liberation Serif', serif" font-weight="bold" stroke="#111" stroke-width="0.25" font-size="11.8" text-anchor="middle" fill="#111">1600</text>
<line x1="289.33" y1="450.2" x2="289.33" y2="452.2" stroke="#4a4a4a" stroke-width="1.1"/>
<text x="10.6" y="255.6" font-family="'Liberation Sans', sans-serif" font-weight="bold" font-size="23" fill="#000">c</text>
<line x1="251.2" y1="257.6" x2="251.2" y2="281.3" stroke="#222" stroke-width="1.4"/><line x1="247.7" y1="257.6" x2="254.7" y2="257.6" stroke="#222" stroke-width="1.4"/><line x1="247.7" y1="281.3" x2="254.7" y2="281.3" stroke="#222" stroke-width="1.4"/><text x="255.5" y="275.6" font-family="'Liberation Serif', serif" font-size="15.8" fill="#111">5000</text>
<text transform="translate(34.4,412.5) rotate(-90)" font-family="'Liberation Serif', serif" font-weight="bold" stroke="#111" stroke-width="0.25" font-size="13" fill="#111">Raman Intensity (a.u.)</text>
<text x="127" y="480.4" font-family="'Liberation Serif', serif" font-weight="bold" stroke="#111" stroke-width="0.25" font-size="12.8" fill="#111">Raman Shift (cm<tspan font-size="7.9" dy="-5.1">-1</tspan><tspan dy="5.1">)</tspan></text>
<text x="54.3" y="278" font-family="'Liberation Sans', sans-serif" font-size="17.4" fill="#111" stroke="#111" stroke-width="0.3">4-ATP</text>
<text x="55" y="323.3" font-family="'Liberation Sans', sans-serif" font-size="16.6" fill="#ec2c12" stroke="#ec2c12" stroke-width="0.35">R6G</text>
<text x="54.3" y="373.6" font-family="'Liberation Sans', sans-serif" font-size="16.8" fill="#1a62b8" stroke="#1a62b8" stroke-width="0.35">MO</text>
<text x="54.5" y="423.5" font-family="'Liberation Sans', sans-serif" font-size="16.8" fill="#22985a" stroke="#22985a" stroke-width="0.35">MB</text>
<path d="M44.80,291.87 45.24,291.86 45.69,291.75 46.13,291.72 46.58,291.69 47.02,291.80 47.47,291.79 47.91,291.80 48.36,291.64 48.80,291.67 49.25,291.63 49.69,291.72 50.14,291.81 50.58,291.92 51.02,291.98 51.47,291.93 51.91,291.90 52.36,291.85 52.80,291.80 53.25,291.86 53.69,291.78 54.14,291.92 54.58,291.86 55.03,291.89 55.47,291.74 55.91,291.68 56.36,291.76 56.80,291.75 57.25,291.90 57.69,291.82 58.14,291.69 58.58,291.54 59.03,291.44 59.47,291.63 59.92,291.78 60.36,292.00 60.81,291.89 61.25,291.74 61.69,291.83 62.14,291.97 62.58,292.04 63.03,291.98 63.47,292.15 63.92,292.26 64.36,292.18 64.81,292.00 65.25,291.94 65.70,291.87 66.14,291.74 66.59,291.67 67.03,291.62 67.47,291.65 67.92,291.58 68.36,291.74 68.81,291.52 69.25,291.30 69.70,290.85 70.14,290.72 70.59,290.63 71.03,290.53 71.48,290.50 71.92,290.47 72.37,290.68 72.81,291.03 73.25,291.38 73.70,291.54 74.14,291.58 74.59,291.66 75.03,291.84 75.48,291.85 75.92,291.85 76.37,291.67 76.81,291.64 77.26,291.81 77.70,291.78 78.14,291.86 78.59,291.75 79.03,291.91 79.48,291.87 79.92,291.85 80.37,291.89 80.81,291.95 81.26,291.81 81.70,291.80 82.15,291.74 82.59,291.85 83.04,291.89 83.48,292.01 83.92,292.14 84.37,292.08 84.81,292.11 85.26,292.13 85.70,292.27 86.15,292.31 86.59,292.21 87.04,292.10 87.48,292.06 87.93,291.96 88.37,291.99 88.82,291.88 89.26,291.97 89.70,291.81 90.15,291.78 90.59,291.81 91.04,292.03 91.48,292.19 91.93,292.19 92.37,292.10 92.82,291.95 93.26,292.00 93.71,291.99 94.15,292.12 94.60,292.23 95.04,292.25 95.48,292.08 95.93,291.86 96.37,291.75 96.82,291.77 97.26,291.96 97.71,292.10 98.15,292.07 98.60,292.02 99.04,292.11 99.49,292.21 99.93,292.10 100.38,291.97 100.82,292.03 101.26,292.14 101.71,292.27 102.15,292.35 102.60,292.39 103.04,292.41 103.49,292.37 103.93,292.14 104.38,292.02 104.82,291.99 105.27,292.09 105.71,292.18 106.15,292.13 106.60,292.08 107.04,292.13 107.49,292.22 107.93,292.31 108.38,292.27 108.82,292.31 109.27,292.32 109.71,292.04 110.16,291.90 110.60,291.83 111.05,291.96 111.49,292.03 111.93,292.17 112.38,292.21 112.82,292.10 113.27,292.18 113.71,292.18 114.16,292.17 114.60,292.03 115.05,292.10 115.49,292.15 115.94,292.19 116.38,292.12 116.83,292.10 117.27,292.05 117.71,292.16 118.16,292.18 118.60,292.20 119.05,292.13 119.49,292.42 119.94,292.33 120.38,292.46 120.83,292.22 121.27,292.27 121.72,292.21 122.16,292.29 122.60,292.41 123.05,292.38 123.49,292.25 123.94,292.10 124.38,292.12 124.83,292.21 125.27,292.38 125.72,292.37 126.16,292.41 126.61,292.41 127.05,292.39 127.50,292.18 127.94,291.95 128.38,291.81 128.83,292.07 129.27,292.09 129.72,292.31 130.16,292.22 130.61,292.42 131.05,292.39 131.50,292.32 131.94,292.13 132.39,292.01 132.83,291.94 133.28,291.74 133.72,291.42 134.16,291.09 134.61,290.52 135.05,290.32 135.50,290.32 135.94,290.93 136.39,291.42 136.83,291.79 137.28,292.00 137.72,291.87 138.17,292.00 138.61,291.90 139.06,292.08 139.50,292.00 139.94,291.82 140.39,291.70 140.83,291.68 141.28,292.00 141.72,292.06 142.17,292.03 142.61,291.75 143.06,291.80 143.50,291.87 143.95,291.93 144.39,291.71 144.83,291.32 145.28,291.25 145.72,291.30 146.17,291.21 146.61,290.78 147.06,289.89 147.50,288.67 147.95,287.12 148.39,284.90 148.84,282.42 149.28,279.56 149.73,277.20 150.17,275.67 150.61,275.67 151.06,277.09 151.50,279.46 151.95,282.18 152.39,284.70 152.84,286.75 153.28,288.17 153.73,289.23 154.17,289.87 154.62,290.28 155.06,290.44 155.51,290.76 155.95,290.99 156.39,291.35 156.84,291.22 157.28,291.13 157.73,291.01 158.17,291.06 158.62,291.01 159.06,290.97 159.51,290.80 159.95,290.51 160.40,289.93 160.84,289.48 161.29,288.79 161.73,287.50 162.17,285.43 162.62,282.61 163.06,278.98 163.51,274.36 163.95,269.29 164.40,264.66 164.84,261.69 165.29,261.61 165.73,264.49 166.18,269.23 166.62,274.16 167.06,278.76 167.51,282.68 167.95,285.83 168.40,287.64 168.84,289.09 169.29,289.69 169.73,290.47 170.18,290.69 170.62,291.10 171.07,291.20 171.51,291.11 171.96,291.16 172.40,291.13 172.84,290.99 173.29,291.06 173.73,290.89 174.18,290.74 174.62,289.67 175.07,288.78 175.51,287.89 175.96,287.74 176.40,288.03 176.85,288.74 177.29,289.60 177.74,290.25 178.18,290.79 178.62,291.17 179.07,291.48 179.51,291.73 179.96,291.78 180.40,292.08 180.85,292.24 181.29,292.28 181.74,292.24 182.18,292.09 182.63,292.08 183.07,292.08 183.52,292.05 183.96,292.07 184.40,291.89 184.85,292.02 185.29,292.18 185.74,292.24 186.18,292.25 186.63,292.05 187.07,292.02 187.52,291.90 187.96,292.10 188.41,292.40 188.85,292.55 189.30,292.37 189.74,292.23 190.18,292.16 190.63,292.29 191.07,292.25 191.52,292.30 191.96,292.29 192.41,292.21 192.85,292.15 193.30,291.95 193.74,291.96 194.19,291.86 194.63,291.98 195.07,291.92 195.52,292.03 195.96,292.05 196.41,291.96 196.85,291.80 197.30,291.56 197.74,291.56 198.19,291.52 198.63,291.34 199.08,290.87 199.52,290.47 199.97,289.97 200.41,290.01 200.85,289.95 201.30,290.14 201.74,290.61 202.19,291.17 202.63,291.64 203.08,291.68 203.52,291.71 203.97,291.93 204.41,291.86 204.86,291.87 205.30,291.93 205.75,292.08 206.19,292.25 206.63,292.22 207.08,292.40 207.52,292.24 207.97,292.25 208.41,291.89 208.86,291.83 209.30,291.91 209.75,291.98 210.19,292.11 210.64,291.97 211.08,291.94 211.52,291.84 211.97,291.78 212.41,291.79 212.86,291.83 213.30,291.88 213.75,291.81 214.19,291.60 214.64,291.48 215.08,291.40 215.53,291.40 215.97,291.36 216.42,291.08 216.86,290.42 217.30,289.30 217.75,287.86 218.19,285.98 218.64,283.59 219.08,280.94 219.53,278.26 219.97,276.26 220.42,275.40 220.86,276.23 221.31,278.16 221.75,281.00 222.20,283.69 222.64,286.20 223.08,287.87 223.53,289.18 223.97,289.80 224.42,290.26 224.86,290.59 225.31,290.57 225.75,290.53 226.20,290.19 226.64,289.85 227.09,288.99 227.53,287.65 227.98,285.65 228.42,283.04 228.86,279.69 229.31,276.22 229.75,272.97 230.20,271.06 230.64,271.15 231.09,273.25 231.53,276.35 231.98,280.02 232.42,283.30 232.87,286.12 233.31,287.88 233.75,289.15 234.20,290.04 234.64,290.68 235.09,290.91 235.53,291.18 235.98,291.57 236.42,291.68 236.87,291.81 237.31,291.67 237.76,291.89 238.20,291.98 238.65,291.90 239.09,291.97 239.53,292.02 239.98,292.13 240.42,292.11 240.87,292.02 241.31,292.03 241.76,292.21 242.20,292.14 242.65,292.27 243.09,292.05 243.54,292.19 243.98,292.12 244.43,292.02 244.87,291.97 245.31,291.90 245.76,292.09 246.20,292.22 246.65,292.22 247.09,292.18 247.54,292.17 247.98,292.28 248.43,292.50 248.87,292.41 249.32,292.33 249.76,292.19 250.21,292.26 250.65,292.42 251.09,292.42 251.54,292.31 251.98,292.22 252.43,292.16 252.87,292.31 253.32,292.31 253.76,292.25 254.21,292.03 254.65,292.07 255.10,292.20 255.54,292.20 255.99,292.05 256.43,291.95 256.87,291.75 257.32,291.60 257.76,291.54 258.21,291.45 258.65,291.32 259.10,290.97 259.54,290.56 259.99,289.88 260.43,289.17 260.88,288.29 261.32,287.34 261.76,286.38 262.21,285.76 262.65,285.49 263.10,285.66 263.54,286.22 263.99,286.97 264.43,287.86 264.88,288.74 265.32,289.66 265.77,290.18 266.21,290.69 266.66,291.11 267.10,291.54 267.54,291.67 267.99,291.87 268.43,291.85 268.88,292.00 269.32,292.11 269.77,292.19 270.21,292.20 270.66,292.21 271.10,292.25 271.55,292.29 271.99,292.24 272.44,292.38 272.88,292.23 273.32,292.15 273.77,291.98 274.21,292.09 274.66,292.10 275.10,292.12 275.55,292.24 275.99,292.25 276.44,292.34 276.88,292.35 277.33,292.37 277.77,292.38 278.21,292.49 278.66,292.58 279.10,292.52 279.55,292.38 279.99,292.27 280.44,292.36 280.88,292.44 281.33,292.45 281.77,292.41 282.22,292.44 282.66,292.47 283.11,292.50 283.55,292.32 283.99,292.30 284.44,292.24 284.88,292.51 285.33,292.55 285.77,292.55 286.22,292.32 286.66,292.35 287.11,292.45 287.55,292.51 288.00,292.70 288.44,292.66 288.89,292.77 289.33,292.60" fill="none" stroke="#3c3c3c" stroke-width="1.2" stroke-linejoin="round"/>
<path d="M44.80,338.68 45.07,338.15 45.33,333.51 45.60,333.11 45.87,329.77 46.13,324.90 46.40,316.27 46.67,314.28 46.93,305.91 47.20,300.83 47.47,299.18 47.73,301.16 48.00,307.13 48.27,311.09 48.53,318.15 48.80,325.76 49.07,330.16 49.33,332.81 49.60,334.90 49.87,336.10 50.14,338.29 50.40,340.82 50.67,337.92 50.94,342.12 51.20,341.34 51.47,339.59 51.74,341.61 52.00,338.37 52.27,338.09 52.54,338.85 52.80,340.26 53.07,340.46 53.34,340.24 53.60,341.23 53.87,337.93 54.14,341.92 54.40,339.09 54.67,340.27 54.94,340.68 55.20,339.59 55.47,339.30 55.74,339.88 56.00,341.39 56.27,342.32 56.54,342.31 56.80,339.99 57.07,340.31 57.34,340.14 57.60,342.21 57.87,338.50 58.14,343.43 58.40,340.86 58.67,340.42 58.94,342.12 59.21,343.18 59.47,342.15 59.74,343.23 60.01,341.87 60.27,343.52 60.54,343.55 60.81,341.55 61.07,343.87 61.34,341.96 61.61,341.86 61.87,340.35 62.14,341.31 62.41,342.92 62.67,339.80 62.94,342.75 63.21,342.30 63.47,342.21 63.74,338.49 64.01,341.65 64.27,342.79 64.54,340.68 64.81,341.96 65.07,338.27 65.34,342.85 65.61,340.86 65.87,343.16 66.14,339.10 66.41,342.91 66.67,341.52 66.94,343.09 67.21,340.50 67.47,340.97 67.74,345.27 68.01,340.67 68.27,340.87 68.54,341.52 68.81,340.41 69.08,343.74 69.34,344.55 69.61,340.91 69.88,339.38 70.14,343.74 70.41,343.65 70.68,343.23 70.94,343.74 71.21,340.71 71.48,341.76 71.74,339.94 72.01,339.90 72.28,343.50 72.54,341.03 72.81,345.46 73.08,342.16 73.34,341.09 73.61,343.25 73.88,344.76 74.14,342.79 74.41,340.23 74.68,342.62 74.94,344.13 75.21,341.32 75.48,340.90 75.74,343.58 76.01,342.26 76.28,340.39 76.54,341.47 76.81,340.90 77.08,342.46 77.34,342.17 77.61,343.72 77.88,343.03 78.15,339.60 78.41,342.53 78.68,343.23 78.95,342.52 79.21,343.33 79.48,340.90 79.75,340.21 80.01,342.92 80.28,339.78 80.55,337.91 80.81,342.37 81.08,339.28 81.35,339.24 81.61,336.68 81.88,335.57 82.15,334.28 82.41,333.64 82.68,332.68 82.95,326.59 83.21,329.31 83.48,325.14 83.75,324.98 84.01,328.29 84.28,328.68 84.55,328.48 84.81,335.67 85.08,333.62 85.35,337.05 85.61,338.43 85.88,341.38 86.15,339.43 86.41,342.24 86.68,340.04 86.95,343.14 87.21,340.53 87.48,341.29 87.75,344.79 88.02,342.52 88.28,342.29 88.55,345.55 88.82,342.79 89.08,341.07 89.35,343.44 89.62,340.61 89.88,344.11 90.15,344.26 90.42,341.63 90.68,341.57 90.95,342.81 91.22,342.59 91.48,341.12 91.75,343.46 92.02,339.57 92.28,342.00 92.55,342.06 92.82,342.28 93.08,343.17 93.35,340.88 93.62,343.62 93.88,342.48 94.15,341.79 94.42,340.73 94.68,341.02 94.95,343.35 95.22,341.38 95.48,342.93 95.75,344.44 96.02,344.41 96.28,345.22 96.55,342.44 96.82,341.27 97.08,344.44 97.35,343.39 97.62,344.62 97.89,342.96 98.15,344.75 98.42,344.24 98.69,344.05 98.95,343.74 99.22,343.60 99.49,343.36 99.75,343.36 100.02,344.52 100.29,342.27 100.55,345.66 100.82,342.90 101.09,344.55 101.35,342.95 101.62,342.72 101.89,346.15 102.15,342.65 102.42,341.21 102.69,342.06 102.95,342.66 103.22,346.38 103.49,343.47 103.75,344.57 104.02,341.68 104.29,343.72 104.55,344.20 104.82,345.91 105.09,342.17 105.35,344.13 105.62,343.69 105.89,341.71 106.15,343.22 106.42,342.87 106.69,339.78 106.96,344.18 107.22,344.10 107.49,342.64 107.76,341.30 108.02,345.54 108.29,343.72 108.56,344.86 108.82,345.46 109.09,342.57 109.36,344.58 109.62,343.01 109.89,343.28 110.16,343.26 110.42,343.39 110.69,345.08 110.96,343.60 111.22,343.19 111.49,343.01 111.76,343.94 112.02,342.08 112.29,342.66 112.56,343.34 112.82,342.56 113.09,343.23 113.36,342.49 113.62,346.41 113.89,345.39 114.16,344.07 114.42,343.31 114.69,346.67 114.96,343.86 115.22,343.25 115.49,343.83 115.76,343.83 116.02,345.48 116.29,343.33 116.56,346.50 116.83,342.03 117.09,344.39 117.36,341.84 117.63,346.06 117.89,342.83 118.16,343.24 118.43,344.71 118.69,345.20 118.96,341.64 119.23,342.78 119.49,341.21 119.76,343.50 120.03,343.13 120.29,342.76 120.56,342.25 120.83,342.69 121.09,342.14 121.36,344.04 121.63,345.52 121.89,340.34 122.16,343.05 122.43,342.59 122.69,343.94 122.96,341.76 123.23,342.96 123.49,341.61 123.76,344.19 124.03,343.28 124.29,342.87 124.56,343.65 124.83,342.70 125.09,340.72 125.36,343.92 125.63,343.43 125.90,342.73 126.16,344.41 126.43,344.72 126.70,341.21 126.96,341.64 127.23,345.08 127.50,344.84 127.76,341.55 128.03,340.83 128.30,341.58 128.56,341.73 128.83,340.03 129.10,342.38 129.36,340.34 129.63,340.37 129.90,343.48 130.16,341.00 130.43,341.84 130.70,342.81 130.96,343.00 131.23,341.20 131.50,341.69 131.76,340.31 132.03,344.11 132.30,342.40 132.56,339.71 132.83,341.33 133.10,342.36 133.36,341.98 133.63,344.00 133.90,343.31 134.16,340.45 134.43,341.15 134.70,339.39 134.96,341.73 135.23,341.63 135.50,345.52 135.77,341.67 136.03,338.45 136.30,340.66 136.57,341.91 136.83,339.93 137.10,340.59 137.37,341.41 137.63,342.55 137.90,341.86 138.17,340.84 138.43,343.42 138.70,341.49 138.97,341.61 139.23,340.35 139.50,341.29 139.77,343.50 140.03,340.14 140.30,342.51 140.57,343.73 140.83,342.12 141.10,343.08 141.37,341.07 141.63,344.74 141.90,344.45 142.17,343.17 142.43,340.21 142.70,341.28 142.97,344.33 143.23,345.45 143.50,343.34 143.77,344.77 144.03,342.00 144.30,342.63 144.57,342.92 144.84,343.56 145.10,340.63 145.37,344.34 145.64,344.91 145.90,341.21 146.17,340.90 146.44,343.46 146.70,341.95 146.97,339.38 147.24,344.14 147.50,343.16 147.77,342.21 148.04,346.10 148.30,343.13 148.57,341.79 148.84,343.07 149.10,341.36 149.37,341.77 149.64,343.49 149.90,342.07 150.17,342.22 150.44,345.40 150.70,344.18 150.97,344.09 151.24,343.67 151.50,343.60 151.77,345.06 152.04,342.83 152.30,345.64 152.57,341.42 152.84,342.46 153.10,340.77 153.37,342.31 153.64,343.60 153.90,344.99 154.17,341.80 154.44,342.79 154.71,342.23 154.97,341.65 155.24,340.96 155.51,342.81 155.77,340.10 156.04,342.85 156.31,342.73 156.57,341.71 156.84,341.17 157.11,340.60 157.37,345.45 157.64,340.59 157.91,344.87 158.17,343.36 158.44,341.81 158.71,340.50 158.97,343.66 159.24,344.53 159.51,340.36 159.77,341.12 160.04,342.96 160.31,341.70 160.57,344.02 160.84,340.03 161.11,341.61 161.37,338.89 161.64,343.94 161.91,339.80 162.17,337.74 162.44,341.06 162.71,341.27 162.97,344.60 163.24,341.48 163.51,342.22 163.77,343.37 164.04,345.08 164.31,342.81 164.58,344.64 164.84,344.02 165.11,342.94 165.38,343.62 165.64,343.65 165.91,342.32 166.18,345.59 166.44,341.75 166.71,345.64 166.98,345.36 167.24,343.82 167.51,342.84 167.78,343.67 168.04,344.74 168.31,345.15 168.58,344.47 168.84,345.52 169.11,343.18 169.38,344.34 169.64,341.59 169.91,345.02 170.18,344.01 170.44,343.02 170.71,345.20 170.98,344.24 171.24,338.66 171.51,342.53 171.78,339.78 172.04,342.94 172.31,344.33 172.58,338.97 172.84,338.90 173.11,337.37 173.38,337.17 173.65,336.52 173.91,336.45 174.18,332.15 174.45,335.33 174.71,331.25 174.98,333.10 175.25,334.83 175.51,334.89 175.78,333.37 176.05,334.84 176.31,336.37 176.58,338.16 176.85,341.07 177.11,338.45 177.38,342.02 177.65,343.05 177.91,343.67 178.18,344.12 178.45,346.19 178.71,345.04 178.98,345.92 179.25,345.74 179.51,347.80 179.78,342.44 180.05,347.36 180.31,345.17 180.58,345.25 180.85,344.31 181.11,343.05 181.38,345.36 181.65,344.97 181.91,346.81 182.18,343.93 182.45,348.35 182.71,346.67 182.98,345.94 183.25,345.31 183.52,345.24 183.78,344.78 184.05,345.71 184.32,346.59 184.58,346.36 184.85,344.55 185.12,346.23 185.38,345.25 185.65,346.79 185.92,349.30 186.18,347.40 186.45,345.95 186.72,343.93 186.98,344.20 187.25,343.75 187.52,347.32 187.78,345.04 188.05,346.23 188.32,345.16 188.58,346.18 188.85,348.09 189.12,344.91 189.38,345.38 189.65,344.63 189.92,347.10 190.18,344.20 190.45,343.98 190.72,343.55 190.98,343.46 191.25,346.23 191.52,349.32 191.78,343.92 192.05,346.79 192.32,345.68 192.59,343.59 192.85,344.77 193.12,344.78 193.39,344.03 193.65,347.90 193.92,342.08 194.19,345.45 194.45,345.31 194.72,343.88 194.99,344.90 195.25,345.92 195.52,344.76 195.79,345.09 196.05,345.42 196.32,341.25 196.59,346.43 196.85,347.54 197.12,345.49 197.39,345.43 197.65,341.69 197.92,343.49 198.19,342.30 198.45,342.50 198.72,344.66 198.99,341.77 199.25,342.46 199.52,339.37 199.79,341.42 200.05,341.04 200.32,338.87 200.59,337.63 200.85,340.07 201.12,333.73 201.39,332.11 201.65,330.55 201.92,331.74 202.19,331.60 202.46,328.03 202.72,326.31 202.99,327.39 203.26,330.93 203.52,329.67 203.79,335.10 204.06,336.92 204.32,336.63 204.59,339.01 204.86,340.44 205.12,342.67 205.39,339.56 205.66,343.51 205.92,341.61 206.19,341.34 206.46,342.87 206.72,342.55 206.99,341.50 207.26,340.67 207.52,341.70 207.79,345.33 208.06,346.12 208.32,344.16 208.59,344.96 208.86,342.39 209.12,343.03 209.39,343.54 209.66,341.44 209.92,341.52 210.19,343.07 210.46,342.33 210.72,341.07 210.99,343.04 211.26,341.77 211.53,343.25 211.79,341.04 212.06,339.62 212.33,338.88 212.59,336.57 212.86,333.47 213.13,331.10 213.39,329.83 213.66,326.84 213.93,325.68 214.19,320.41 214.46,323.15 214.73,325.23 214.99,328.94 215.26,331.00 215.53,333.68 215.79,337.97 216.06,338.91 216.33,338.27 216.59,343.00 216.86,343.16 217.13,341.25 217.39,343.65 217.66,341.51 217.93,344.45 218.19,342.55 218.46,341.75 218.73,342.47 218.99,341.94 219.26,343.42 219.53,343.44 219.79,343.26 220.06,342.40 220.33,337.77 220.59,343.42 220.86,340.45 221.13,343.68 221.40,345.02 221.66,343.74 221.93,342.76 222.20,343.08 222.46,343.15 222.73,342.53 223.00,342.48 223.26,341.97 223.53,345.14 223.80,343.33 224.06,344.79 224.33,342.98 224.60,343.46 224.86,343.09 225.13,344.04 225.40,344.58 225.66,343.70 225.93,342.32 226.20,342.16 226.46,345.81 226.73,342.89 227.00,342.87 227.26,345.49 227.53,344.91 227.80,344.06 228.06,342.64 228.33,346.75 228.60,343.79 228.86,344.00 229.13,342.91 229.40,341.02 229.66,341.12 229.93,343.72 230.20,343.67 230.46,342.70 230.73,341.29 231.00,340.86 231.27,342.51 231.53,340.80 231.80,344.31 232.07,344.67 232.33,347.16 232.60,344.21 232.87,341.98 233.13,341.54 233.40,337.65 233.67,341.91 233.93,342.51 234.20,344.21 234.47,343.65 234.73,343.59 235.00,343.00 235.27,343.65 235.53,344.80 235.80,341.00 236.07,341.89 236.33,340.46 236.60,344.95 236.87,344.43 237.13,343.59 237.40,340.63 237.67,342.65 237.93,342.01 238.20,342.45 238.47,342.01 238.73,343.03 239.00,341.62 239.27,343.45 239.53,342.49 239.80,341.64 240.07,341.87 240.34,341.32 240.60,343.16 240.87,341.50 241.14,342.31 241.40,341.23 241.67,339.53 241.94,343.06 242.20,340.04 242.47,342.55 242.74,342.06 243.00,338.81 243.27,339.70 243.54,340.11 243.80,339.33 244.07,338.33 244.34,340.55 244.60,338.12 244.87,337.72 245.14,334.69 245.40,333.46 245.67,329.00 245.94,326.77 246.20,324.14 246.47,319.92 246.74,316.45 247.00,314.09 247.27,316.27 247.54,318.46 247.80,320.58 248.07,323.33 248.34,328.81 248.60,334.91 248.87,333.44 249.14,336.56 249.40,338.27 249.67,335.06 249.94,339.96 250.21,339.31 250.47,342.86 250.74,340.70 251.01,340.13 251.27,341.13 251.54,341.84 251.81,340.86 252.07,341.71 252.34,339.84 252.61,341.60 252.87,343.16 253.14,345.00 253.41,343.15 253.67,342.54 253.94,343.94 254.21,343.72 254.47,344.71 254.74,343.86 255.01,342.08 255.27,342.66 255.54,342.56 255.81,342.75 256.07,342.60 256.34,341.13 256.61,339.15 256.87,341.29 257.14,339.25 257.41,342.38 257.67,342.26 257.94,339.71 258.21,343.21 258.47,343.41 258.74,342.15 259.01,344.34 259.28,344.39 259.54,339.38 259.81,342.15 260.08,340.42 260.34,339.30 260.61,338.78 260.88,334.92 261.14,333.87 261.41,332.76 261.68,332.87 261.94,334.63 262.21,333.85 262.48,335.85 262.74,339.60 263.01,339.72 263.28,341.24 263.54,338.44 263.81,340.51 264.08,341.12 264.34,342.18 264.61,341.37 264.88,343.73 265.14,342.30 265.41,342.46 265.68,342.49 265.94,343.56 266.21,341.81 266.48,344.23 266.74,343.25 267.01,342.80 267.28,342.61 267.54,343.28 267.81,343.97 268.08,343.81 268.34,342.90 268.61,343.60 268.88,342.40 269.15,344.04 269.41,342.06 269.68,338.92 269.95,343.97 270.21,342.06 270.48,340.06 270.75,341.45 271.01,340.34 271.28,344.73 271.55,342.24 271.81,339.05 272.08,342.12 272.35,340.60 272.61,343.96 272.88,339.38 273.15,337.45 273.41,340.77 273.68,339.98 273.95,339.69 274.21,336.87 274.48,340.44 274.75,341.95 275.01,336.09 275.28,340.04 275.55,336.48 275.81,339.53 276.08,334.84 276.35,331.50 276.61,330.40 276.88,325.87 277.15,320.08 277.41,317.76 277.68,312.02 277.95,307.26 278.22,311.90 278.48,309.32 278.75,311.67 279.02,316.90 279.28,318.22 279.55,322.55 279.82,327.39 280.08,330.30 280.35,333.49 280.62,336.78 280.88,335.62 281.15,337.91 281.42,338.65 281.68,336.51 281.95,338.74 282.22,337.16 282.48,340.30 282.75,339.49 283.02,338.96 283.28,337.02 283.55,339.29 283.82,338.04 284.08,340.32 284.35,339.14 284.62,338.15 284.88,340.80 285.15,340.54 285.42,338.60 285.68,341.27 285.95,339.11 286.22,339.12 286.48,339.79 286.75,338.50 287.02,338.98 287.28,339.43 287.55,341.98 287.82,341.95 288.09,339.33 288.35,342.14 288.62,339.67 288.89,340.32 289.15,341.09" fill="none" stroke="#e23a3a" stroke-width="1.3" stroke-linejoin="round"/>
<path d="M44.80,384.80 45.07,386.01 45.33,385.98 45.60,384.17 45.87,384.70 46.13,385.09 46.40,384.29 46.67,382.99 46.93,383.64 47.20,385.55 47.47,385.44 47.73,385.52 48.00,385.96 48.27,385.45 48.53,385.07 48.80,384.72 49.07,384.07 49.33,384.96 49.60,385.33 49.87,384.13 50.14,384.11 50.40,384.68 50.67,384.08 50.94,384.39 51.20,384.59 51.47,383.58 51.74,383.22 52.00,384.88 52.27,384.67 52.54,383.89 52.80,384.94 53.07,385.14 53.34,384.21 53.60,383.72 53.87,384.39 54.14,384.94 54.40,384.53 54.67,383.53 54.94,384.34 55.20,385.46 55.47,385.12 55.74,384.25 56.00,384.24 56.27,384.58 56.54,384.77 56.80,384.07 57.07,383.68 57.34,384.20 57.60,383.56 57.87,383.72 58.14,384.26 58.40,383.91 58.67,384.06 58.94,383.52 59.21,383.26 59.47,384.15 59.74,384.28 60.01,384.56 60.27,383.77 60.54,382.44 60.81,383.12 61.07,384.05 61.34,384.95 61.61,384.98 61.87,383.44 62.14,383.48 62.41,383.45 62.67,382.26 62.94,383.94 63.21,384.80 63.47,383.80 63.74,383.87 64.01,384.38 64.27,384.20 64.54,383.86 64.81,383.16 65.07,381.82 65.34,383.01 65.61,384.41 65.87,383.93 66.14,383.28 66.41,383.08 66.67,382.61 66.94,383.28 67.21,383.94 67.47,383.42 67.74,383.27 68.01,383.54 68.27,383.61 68.54,383.46 68.81,382.63 69.08,382.52 69.34,384.21 69.61,383.70 69.88,382.55 70.14,383.27 70.41,383.82 70.68,383.69 70.94,382.41 71.21,382.35 71.48,382.57 71.74,381.90 72.01,382.75 72.28,383.00 72.54,383.11 72.81,384.80 73.08,384.75 73.34,383.49 73.61,382.59 73.88,381.84 74.14,381.68 74.41,381.64 74.68,381.52 74.94,381.34 75.21,381.65 75.48,381.33 75.74,380.57 76.01,380.21 76.28,380.95 76.54,381.45 76.81,381.51 77.08,381.76 77.34,380.82 77.61,380.36 77.88,379.52 78.15,380.03 78.41,381.03 78.68,379.46 78.95,377.95 79.21,377.91 79.48,377.22 79.75,376.29 80.01,377.26 80.28,377.35 80.55,376.41 80.81,376.54 81.08,375.97 81.35,375.37 81.61,375.40 81.88,374.63 82.15,374.94 82.41,374.74 82.68,375.38 82.95,375.55 83.21,375.60 83.48,375.41 83.75,374.83 84.01,374.93 84.28,374.15 84.55,375.06 84.81,376.33 85.08,375.90 85.35,376.46 85.61,377.03 85.88,376.85 86.15,377.79 86.41,378.38 86.68,377.65 86.95,378.52 87.21,380.05 87.48,379.38 87.75,378.93 88.02,378.62 88.28,378.77 88.55,380.20 88.82,381.00 89.08,380.44 89.35,380.61 89.62,382.20 89.88,382.54 90.15,381.68 90.42,382.72 90.68,383.44 90.95,382.96 91.22,382.59 91.48,381.94 91.75,381.79 92.02,382.46 92.28,383.05 92.55,383.57 92.82,384.05 93.08,384.07 93.35,383.98 93.62,383.44 93.88,382.32 94.15,382.62 94.42,383.27 94.68,383.25 94.95,383.64 95.22,383.38 95.48,383.00 95.75,383.60 96.02,384.24 96.28,383.99 96.55,384.21 96.82,384.45 97.08,383.71 97.35,383.86 97.62,385.33 97.89,384.99 98.15,384.65 98.42,385.69 98.69,385.87 98.95,384.78 99.22,385.05 99.49,385.53 99.75,384.41 100.02,384.25 100.29,384.68 100.55,384.83 100.82,384.45 101.09,385.08 101.35,384.81 101.62,383.66 101.89,384.42 102.15,385.30 102.42,385.46 102.69,384.57 102.95,384.57 103.22,385.35 103.49,385.70 103.75,384.84 104.02,384.07 104.29,384.56 104.55,383.66 104.82,383.44 105.09,384.80 105.35,384.93 105.62,384.00 105.89,384.67 106.15,385.53 106.42,385.58 106.69,384.69 106.96,384.17 107.22,385.08 107.49,384.77 107.76,383.88 108.02,384.61 108.29,385.76 108.56,384.76 108.82,382.67 109.09,382.51 109.36,383.29 109.62,383.93 109.89,384.72 110.16,384.69 110.42,384.01 110.69,384.13 110.96,383.97 111.22,383.84 111.49,383.96 111.76,385.29 112.02,385.97 112.29,384.17 112.56,383.21 112.82,383.35 113.09,382.97 113.36,382.77 113.62,383.16 113.89,383.90 114.16,383.98 114.42,383.08 114.69,382.55 114.96,382.28 115.22,382.85 115.49,383.26 115.76,383.79 116.02,383.51 116.29,383.41 116.56,383.80 116.83,383.21 117.09,382.04 117.36,381.36 117.63,382.71 117.89,384.04 118.16,383.77 118.43,383.46 118.69,383.17 118.96,382.63 119.23,382.54 119.49,383.26 119.76,383.82 120.03,383.28 120.29,383.01 120.56,383.47 120.83,383.87 121.09,383.25 121.36,384.02 121.63,384.64 121.89,383.87 122.16,384.55 122.43,385.13 122.69,384.42 122.96,384.24 123.23,383.81 123.49,383.29 123.76,382.75 124.03,383.73 124.29,383.97 124.56,383.74 124.83,384.32 125.09,383.53 125.36,383.89 125.63,384.55 125.90,384.98 126.16,385.76 126.43,385.66 126.70,385.24 126.96,384.78 127.23,384.72 127.50,385.11 127.76,384.54 128.03,384.43 128.30,384.64 128.56,384.80 128.83,385.04 129.10,384.70 129.36,384.13 129.63,384.77 129.90,384.30 130.16,383.62 130.43,385.25 130.70,384.21 130.96,383.09 131.23,384.80 131.50,384.32 131.76,385.28 132.03,384.81 132.30,384.23 132.56,386.31 132.83,386.05 133.10,385.16 133.36,384.89 133.63,384.55 133.90,384.78 134.16,384.67 134.43,384.13 134.70,385.20 134.96,384.78 135.23,384.10 135.50,384.74 135.77,384.26 136.03,384.76 136.30,385.60 136.57,384.26 136.83,384.07 137.10,384.44 137.37,384.13 137.63,384.56 137.90,384.53 138.17,384.97 138.43,384.97 138.70,384.97 138.97,385.29 139.23,385.22 139.50,384.96 139.77,384.26 140.03,383.94 140.30,384.45 140.57,385.46 140.83,386.19 141.10,386.30 141.37,385.27 141.63,384.36 141.90,384.16 142.17,383.78 142.43,383.56 142.70,382.94 142.97,380.37 143.23,378.00 143.50,377.86 143.77,377.98 144.03,377.91 144.30,379.77 144.57,381.24 144.84,381.84 145.10,382.80 145.37,382.61 145.64,383.68 145.90,384.29 146.17,383.72 146.44,384.04 146.70,384.75 146.97,385.13 147.24,384.81 147.50,384.04 147.77,384.01 148.04,384.14 148.30,384.35 148.57,385.29 148.84,385.14 149.10,385.99 149.37,386.28 149.64,385.56 149.90,385.38 150.17,385.00 150.44,385.41 150.70,386.07 150.97,384.94 151.24,384.92 151.50,385.84 151.77,385.80 152.04,385.78 152.30,384.68 152.57,383.86 152.84,385.40 153.10,386.12 153.37,384.50 153.64,384.55 153.90,385.08 154.17,383.99 154.44,383.03 154.71,383.15 154.97,384.44 155.24,385.22 155.51,384.96 155.77,385.13 156.04,385.56 156.31,384.36 156.57,383.91 156.84,384.55 157.11,384.09 157.37,384.23 157.64,384.79 157.91,384.93 158.17,384.26 158.44,384.16 158.71,385.89 158.97,385.60 159.24,383.75 159.51,384.42 159.77,385.56 160.04,385.65 160.31,384.79 160.57,385.06 160.84,385.22 161.11,384.15 161.37,384.24 161.64,384.75 161.91,385.40 162.17,385.76 162.44,385.39 162.71,385.53 162.97,385.58 163.24,385.55 163.51,384.79 163.77,383.54 164.04,384.61 164.31,384.69 164.58,384.13 164.84,384.75 165.11,384.63 165.38,384.42 165.64,385.33 165.91,384.25 166.18,383.95 166.44,386.32 166.71,385.84 166.98,384.62 167.24,384.91 167.51,385.77 167.78,384.74 168.04,383.79 168.31,384.21 168.58,384.36 168.84,384.44 169.11,384.39 169.38,384.00 169.64,383.59 169.91,383.35 170.18,382.89 170.44,383.04 170.71,383.19 170.98,382.56 171.24,383.31 171.51,383.72 171.78,382.14 172.04,382.67 172.31,382.90 172.58,382.53 172.84,382.84 173.11,382.67 173.38,382.73 173.65,382.31 173.91,382.25 174.18,383.57 174.45,382.47 174.71,381.55 174.98,382.95 175.25,382.47 175.51,381.66 175.78,383.37 176.05,383.97 176.31,384.05 176.58,384.62 176.85,383.73 177.11,383.82 177.38,384.22 177.65,384.68 177.91,384.70 178.18,384.29 178.45,384.26 178.71,384.97 178.98,385.38 179.25,384.30 179.51,383.66 179.78,384.40 180.05,384.49 180.31,384.20 180.58,384.10 180.85,384.22 181.11,384.96 181.38,385.64 181.65,385.48 181.91,386.06 182.18,386.05 182.45,386.65 182.71,387.22 182.98,385.90 183.25,385.17 183.52,383.53 183.78,383.72 184.05,385.24 184.32,386.30 184.58,385.53 184.85,385.54 185.12,386.11 185.38,385.53 185.65,384.39 185.92,384.11 186.18,385.21 186.45,385.49 186.72,385.71 186.98,384.80 187.25,385.23 187.52,386.15 187.78,385.98 188.05,386.14 188.32,386.39 188.58,385.87 188.85,384.64 189.12,383.95 189.38,385.30 189.65,386.34 189.92,385.71 190.18,385.13 190.45,385.08 190.72,385.30 190.98,385.09 191.25,384.71 191.52,385.94 191.78,386.38 192.05,384.97 192.32,384.17 192.59,384.07 192.85,385.04 193.12,385.74 193.39,385.22 193.65,384.81 193.92,384.71 194.19,384.07 194.45,384.80 194.72,385.47 194.99,385.97 195.25,385.32 195.52,383.93 195.79,384.65 196.05,384.50 196.32,383.26 196.59,382.81 196.85,383.44 197.12,383.98 197.39,383.77 197.65,383.99 197.92,384.43 198.19,383.99 198.45,383.41 198.72,383.03 198.99,383.21 199.25,383.73 199.52,383.42 199.79,383.14 200.05,382.92 200.32,381.98 200.59,381.65 200.85,382.76 201.12,383.52 201.39,383.99 201.65,383.86 201.92,383.57 202.19,384.29 202.46,384.46 202.72,383.59 202.99,383.11 203.26,383.59 203.52,383.31 203.79,383.59 204.06,384.71 204.32,384.34 204.59,384.93 204.86,385.13 205.12,384.14 205.39,384.26 205.66,384.10 205.92,384.52 206.19,384.97 206.46,385.66 206.72,386.03 206.99,385.53 207.26,385.18 207.52,384.26 207.79,384.38 208.06,384.71 208.32,385.27 208.59,385.72 208.86,386.11 209.12,386.52 209.39,386.13 209.66,385.91 209.92,385.61 210.19,385.84 210.46,386.22 210.72,385.55 210.99,385.34 211.26,387.02 211.53,386.74 211.79,385.30 212.06,385.01 212.33,384.41 212.59,385.36 212.86,386.11 213.13,385.66 213.39,386.55 213.66,387.66 213.93,386.28 214.19,385.55 214.46,386.30 214.73,385.96 214.99,385.88 215.26,385.65 215.53,386.19 215.79,386.49 216.06,385.85 216.33,386.14 216.59,386.39 216.86,385.96 217.13,385.64 217.39,386.23 217.66,386.26 217.93,385.26 218.19,384.46 218.46,384.18 218.73,383.85 218.99,383.76 219.26,383.96 219.53,382.28 219.79,381.37 220.06,381.74 220.33,380.68 220.59,378.64 220.86,377.98 221.13,377.09 221.40,375.25 221.66,375.03 221.93,376.19 222.20,378.20 222.46,379.96 222.73,380.76 223.00,380.68 223.26,381.17 223.53,382.05 223.80,382.84 224.06,382.78 224.33,383.18 224.60,384.54 224.86,384.49 225.13,384.42 225.40,384.01 225.66,383.01 225.93,383.10 226.20,384.32 226.46,385.05 226.73,384.12 227.00,384.07 227.26,383.99 227.53,383.97 227.80,384.19 228.06,383.01 228.33,382.95 228.60,382.55 228.86,381.44 229.13,380.84 229.40,381.15 229.66,381.56 229.93,381.08 230.20,380.59 230.46,381.02 230.73,380.67 231.00,379.25 231.27,379.74 231.53,380.46 231.80,379.66 232.07,377.74 232.33,376.94 232.60,377.80 232.87,377.81 233.13,378.00 233.40,377.06 233.67,376.41 233.93,376.60 234.20,376.78 234.47,376.97 234.73,376.77 235.00,376.49 235.27,375.31 235.53,375.17 235.80,375.71 236.07,375.94 236.33,377.05 236.60,378.48 236.87,378.29 237.13,377.41 237.40,377.52 237.67,378.03 237.93,379.15 238.20,379.99 238.47,379.85 238.73,379.83 239.00,378.91 239.27,379.04 239.53,379.79 239.80,380.65 240.07,381.53 240.34,381.18 240.60,381.16 240.87,382.53 241.14,382.39 241.40,381.26 241.67,381.70 241.94,381.84 242.20,381.73 242.47,382.30 242.74,383.30 243.00,382.03 243.27,381.01 243.54,381.77 243.80,381.60 244.07,381.35 244.34,381.14 244.60,381.70 244.87,381.68 245.14,381.24 245.40,381.66 245.67,382.04 245.94,382.25 246.20,383.01 246.47,383.43 246.74,383.34 247.00,383.63 247.27,383.34 247.54,383.21 247.80,383.43 248.07,384.15 248.34,384.49 248.60,384.02 248.87,384.62 249.14,385.52 249.40,384.60 249.67,385.26 249.94,386.21 250.21,385.35 250.47,385.90 250.74,386.02 251.01,385.20 251.27,386.27 251.54,386.05 251.81,384.89 252.07,385.83 252.34,385.32 252.61,384.82 252.87,385.52 253.14,386.73 253.41,386.05 253.67,384.79 253.94,385.51 254.21,385.53 254.47,384.54 254.74,384.64 255.01,385.23 255.27,385.17 255.54,385.60 255.81,385.80 256.07,385.35 256.34,384.90 256.61,384.04 256.87,383.70 257.14,384.24 257.41,383.99 257.67,383.79 257.94,383.44 258.21,384.01 258.47,385.35 258.74,384.23 259.01,383.19 259.28,383.09 259.54,383.35 259.81,383.50 260.08,382.72 260.34,382.21 260.61,382.04 260.88,381.46 261.14,381.54 261.41,381.49 261.68,381.23 261.94,381.47 262.21,381.57 262.48,381.32 262.74,381.12 263.01,380.51 263.28,380.16 263.54,380.38 263.81,380.06 264.08,380.11 264.34,380.40 264.61,379.29 264.88,378.95 265.14,379.19 265.41,379.63 265.68,379.40 265.94,378.33 266.21,378.52 266.48,379.90 266.74,380.16 267.01,379.48 267.28,379.93 267.54,379.06 267.81,379.24 268.08,380.55 268.34,380.69 268.61,380.88 268.88,380.81 269.15,380.33 269.41,380.23 269.68,380.22 269.95,381.02 270.21,380.47 270.48,378.75 270.75,377.01 271.01,374.80 271.28,373.60 271.55,370.68 271.81,366.39 272.08,363.66 272.35,360.95 272.61,359.86 272.88,358.17 273.15,358.28 273.41,362.12 273.68,364.52 273.95,367.26 274.21,371.34 274.48,375.40 274.75,377.15 275.01,377.47 275.28,379.86 275.55,382.47 275.81,382.56 276.08,381.22 276.35,382.49 276.61,383.77 276.88,383.81 277.15,384.05 277.41,383.43 277.68,383.33 277.95,384.35 278.22,385.37 278.48,383.63 278.75,382.50 279.02,384.51 279.28,384.84 279.55,383.31 279.82,383.52 280.08,384.18 280.35,384.15 280.62,383.99 280.88,383.90 281.15,383.93 281.42,384.26 281.68,384.09 281.95,383.79 282.22,384.13 282.48,384.93 282.75,385.20 283.02,384.49 283.28,384.58 283.55,384.84 283.82,385.11 284.08,385.16 284.35,385.51 284.62,385.93 284.88,385.01 285.15,384.13 285.42,384.59 285.68,385.05 285.95,384.55 286.22,383.55 286.48,382.68 286.75,383.58 287.02,384.88 287.28,385.10 287.55,384.06 287.82,384.17 288.09,384.54 288.35,384.21 288.62,384.68 288.89,384.07 289.15,383.56" fill="none" stroke="#1f68d4" stroke-width="1.3" stroke-linejoin="round"/>
<path d="M44.80,436.00 45.07,437.50 45.33,436.35 45.60,439.26 45.87,438.77 46.13,439.88 46.40,439.15 46.67,437.86 46.93,439.14 47.20,438.18 47.47,439.48 47.73,439.09 48.00,437.40 48.27,438.68 48.53,438.75 48.80,438.28 49.07,439.84 49.33,440.90 49.60,438.19 49.87,438.21 50.14,435.74 50.40,438.50 50.67,438.10 50.94,435.85 51.20,439.03 51.47,439.42 51.74,437.70 52.00,438.16 52.27,437.39 52.54,439.63 52.80,436.66 53.07,438.23 53.34,441.17 53.60,438.69 53.87,439.23 54.14,438.43 54.40,437.08 54.67,438.56 54.94,439.13 55.20,437.27 55.47,439.03 55.74,440.20 56.00,439.97 56.27,436.52 56.54,437.30 56.80,436.46 57.07,439.95 57.34,439.34 57.60,439.45 57.87,437.39 58.14,437.01 58.40,438.62 58.67,438.64 58.94,437.39 59.21,438.67 59.47,439.32 59.74,438.77 60.01,437.11 60.27,435.70 60.54,438.10 60.81,438.64 61.07,438.08 61.34,437.85 61.61,437.49 61.87,439.31 62.14,438.30 62.41,438.51 62.67,437.07 62.94,437.52 63.21,438.52 63.47,436.98 63.74,436.64 64.01,437.83 64.27,439.80 64.54,438.47 64.81,440.10 65.07,438.01 65.34,437.75 65.61,436.33 65.87,437.36 66.14,439.96 66.41,438.49 66.67,438.99 66.94,438.93 67.21,437.97 67.47,437.69 67.74,438.08 68.01,438.76 68.27,438.45 68.54,438.46 68.81,437.99 69.08,436.74 69.34,437.36 69.61,436.44 69.88,438.92 70.14,434.83 70.41,437.23 70.68,440.56 70.94,436.96 71.21,435.87 71.48,437.25 71.74,438.88 72.01,436.92 72.28,437.84 72.54,437.08 72.81,436.37 73.08,440.84 73.34,436.72 73.61,435.81 73.88,435.73 74.14,436.71 74.41,436.58 74.68,436.87 74.94,435.85 75.21,433.59 75.48,435.90 75.74,434.54 76.01,434.29 76.28,432.42 76.54,433.25 76.81,432.68 77.08,433.16 77.34,430.87 77.61,432.34 77.88,431.91 78.15,429.73 78.41,429.75 78.68,428.79 78.95,430.38 79.21,425.15 79.48,427.18 79.75,424.60 80.01,425.29 80.28,425.98 80.55,423.05 80.81,422.98 81.08,420.59 81.35,423.04 81.61,420.50 81.88,419.54 82.15,415.07 82.41,414.05 82.68,415.56 82.95,412.55 83.21,411.11 83.48,410.53 83.75,407.12 84.01,408.43 84.28,406.17 84.55,405.53 84.81,402.87 85.08,403.32 85.35,400.74 85.61,402.02 85.88,401.49 86.15,400.58 86.41,399.60 86.68,399.45 86.95,394.97 87.21,399.60 87.48,398.35 87.75,399.20 88.02,399.22 88.28,398.45 88.55,400.36 88.82,402.84 89.08,404.86 89.35,403.32 89.62,404.15 89.88,408.46 90.15,406.72 90.42,411.89 90.68,410.61 90.95,410.75 91.22,414.52 91.48,416.78 91.75,414.02 92.02,419.20 92.28,418.05 92.55,421.55 92.82,420.28 93.08,419.83 93.35,423.57 93.62,425.11 93.88,427.55 94.15,427.92 94.42,427.37 94.68,426.88 94.95,427.17 95.22,428.06 95.48,427.91 95.75,429.14 96.02,426.65 96.28,430.63 96.55,430.78 96.82,434.57 97.08,432.65 97.35,431.47 97.62,433.27 97.89,431.39 98.15,432.64 98.42,431.43 98.69,436.13 98.95,435.42 99.22,433.49 99.49,435.27 99.75,436.89 100.02,436.57 100.29,436.67 100.55,435.28 100.82,435.77 101.09,436.89 101.35,438.12 101.62,435.99 101.89,435.73 102.15,438.79 102.42,436.19 102.69,438.89 102.95,437.89 103.22,438.80 103.49,439.99 103.75,438.68 104.02,438.86 104.29,436.71 104.55,437.06 104.82,438.85 105.09,440.06 105.35,439.92 105.62,441.17 105.89,438.60 106.15,438.50 106.42,439.58 106.69,438.34 106.96,438.27 107.22,437.02 107.49,439.71 107.76,437.05 108.02,439.15 108.29,436.66 108.56,439.96 108.82,437.23 109.09,439.69 109.36,436.55 109.62,438.07 109.89,440.20 110.16,437.64 110.42,438.80 110.69,438.11 110.96,435.75 111.22,439.17 111.49,439.35 111.76,437.37 112.02,439.57 112.29,437.81 112.56,437.55 112.82,438.88 113.09,438.00 113.36,441.88 113.62,436.90 113.89,439.89 114.16,440.23 114.42,436.38 114.69,436.72 114.96,439.71 115.22,438.36 115.49,439.50 115.76,440.49 116.02,438.53 116.29,437.64 116.56,435.48 116.83,439.30 117.09,437.84 117.36,439.46 117.63,439.35 117.89,437.25 118.16,441.30 118.43,440.47 118.69,440.16 118.96,437.52 119.23,438.52 119.49,438.34 119.76,438.50 120.03,437.57 120.29,439.58 120.56,439.30 120.83,439.46 121.09,438.30 121.36,440.60 121.63,439.12 121.89,435.26 122.16,437.91 122.43,438.57 122.69,439.78 122.96,437.99 123.23,437.87 123.49,437.11 123.76,438.57 124.03,436.81 124.29,436.24 124.56,435.65 124.83,436.89 125.09,434.98 125.36,432.99 125.63,435.46 125.90,433.24 126.16,434.16 126.43,433.80 126.70,434.62 126.96,434.29 127.23,432.22 127.50,432.93 127.76,431.78 128.03,436.06 128.30,434.94 128.56,436.69 128.83,434.99 129.10,433.26 129.36,438.40 129.63,436.98 129.90,437.44 130.16,437.70 130.43,438.77 130.70,438.89 130.96,436.35 131.23,440.01 131.50,438.06 131.76,438.26 132.03,441.21 132.30,440.24 132.56,438.67 132.83,436.75 133.10,439.41 133.36,439.94 133.63,439.16 133.90,437.67 134.16,438.28 134.43,437.69 134.70,439.61 134.96,440.40 135.23,440.68 135.50,438.40 135.77,439.66 136.03,440.07 136.30,438.69 136.57,439.16 136.83,442.10 137.10,439.60 137.37,440.47 137.63,438.75 137.90,439.35 138.17,437.05 138.43,439.22 138.70,440.77 138.97,441.92 139.23,440.70 139.50,439.99 139.77,439.10 140.03,438.18 140.30,438.65 140.57,439.54 140.83,437.57 141.10,439.59 141.37,436.77 141.63,435.21 141.90,435.30 142.17,432.91 142.43,430.82 142.70,430.48 142.97,424.12 143.23,419.62 143.50,416.78 143.77,415.69 144.03,415.74 144.30,422.72 144.57,426.50 144.84,430.32 145.10,434.10 145.37,433.80 145.64,435.93 145.90,437.56 146.17,438.93 146.44,437.93 146.70,438.43 146.97,439.99 147.24,440.67 147.50,439.92 147.77,440.64 148.04,438.51 148.30,438.68 148.57,439.53 148.84,438.75 149.10,438.50 149.37,441.32 149.64,438.92 149.90,437.93 150.17,439.82 150.44,441.57 150.70,439.29 150.97,440.78 151.24,438.59 151.50,438.51 151.77,438.23 152.04,438.92 152.30,441.47 152.57,437.55 152.84,441.15 153.10,437.67 153.37,438.63 153.64,439.97 153.90,439.65 154.17,439.13 154.44,436.54 154.71,439.07 154.97,437.17 155.24,441.72 155.51,437.96 155.77,438.31 156.04,436.37 156.31,436.96 156.57,435.53 156.84,437.96 157.11,435.59 157.37,435.60 157.64,432.48 157.91,430.68 158.17,430.32 158.44,424.04 158.71,419.02 158.97,417.56 159.24,411.20 159.51,408.36 159.77,407.71 160.04,405.03 160.31,408.90 160.57,410.13 160.84,417.04 161.11,421.07 161.37,422.67 161.64,426.37 161.91,428.26 162.17,431.59 162.44,434.17 162.71,431.57 162.97,434.90 163.24,431.75 163.51,431.60 163.77,429.04 164.04,432.04 164.31,426.52 164.58,423.04 164.84,417.32 165.11,414.44 165.38,404.97 165.64,402.84 165.91,402.14 166.18,397.50 166.44,399.40 166.71,403.89 166.98,406.97 167.24,413.52 167.51,420.01 167.78,423.68 168.04,427.79 168.31,429.90 168.58,433.06 168.84,434.38 169.11,437.37 169.38,437.23 169.64,436.54 169.91,434.09 170.18,438.50 170.44,438.78 170.71,436.79 170.98,435.54 171.24,436.78 171.51,439.57 171.78,437.07 172.04,437.93 172.31,438.87 172.58,440.22 172.84,438.64 173.11,438.55 173.38,437.97 173.65,440.79 173.91,440.02 174.18,438.44 174.45,436.63 174.71,437.23 174.98,438.72 175.25,436.60 175.51,438.12 175.78,436.65 176.05,435.60 176.31,434.94 176.58,433.51 176.85,430.54 177.11,430.22 177.38,433.11 177.65,428.52 177.91,430.07 178.18,433.11 178.45,432.75 178.71,433.16 178.98,433.66 179.25,437.07 179.51,438.50 179.78,439.61 180.05,438.32 180.31,439.94 180.58,437.47 180.85,439.19 181.11,438.20 181.38,439.40 181.65,440.21 181.91,440.68 182.18,438.04 182.45,441.02 182.71,438.78 182.98,438.09 183.25,439.23 183.52,437.57 183.78,439.50 184.05,439.88 184.32,439.26 184.58,440.23 184.85,439.14 185.12,439.56 185.38,437.70 185.65,439.63 185.92,438.48 186.18,439.01 186.45,439.48 186.72,439.85 186.98,437.47 187.25,437.58 187.52,439.23 187.78,440.24 188.05,440.09 188.32,440.79 188.58,441.32 188.85,440.28 189.12,439.61 189.38,438.29 189.65,438.40 189.92,439.03 190.18,439.98 190.45,439.92 190.72,439.64 190.98,439.43 191.25,440.45 191.52,439.89 191.78,440.01 192.05,440.02 192.32,438.90 192.59,438.27 192.85,440.24 193.12,440.14 193.39,439.30 193.65,439.04 193.92,442.54 194.19,438.58 194.45,439.27 194.72,439.89 194.99,438.03 195.25,439.67 195.52,441.84 195.79,440.70 196.05,440.28 196.32,440.20 196.59,439.55 196.85,440.61 197.12,439.12 197.39,438.72 197.65,439.35 197.92,440.32 198.19,439.48 198.45,439.82 198.72,436.19 198.99,440.22 199.25,441.54 199.52,440.04 199.79,437.66 200.05,436.72 200.32,437.90 200.59,435.94 200.85,437.83 201.12,435.84 201.39,437.39 201.65,437.53 201.92,432.73 202.19,435.39 202.46,433.77 202.72,432.55 202.99,433.36 203.26,433.73 203.52,435.31 203.79,432.03 204.06,435.51 204.32,436.98 204.59,435.41 204.86,435.67 205.12,435.29 205.39,434.16 205.66,436.75 205.92,436.92 206.19,437.73 206.46,440.44 206.72,438.35 206.99,438.24 207.26,439.96 207.52,436.40 207.79,436.85 208.06,438.01 208.32,437.79 208.59,439.66 208.86,438.44 209.12,441.19 209.39,440.97 209.66,440.05 209.92,438.59 210.19,439.92 210.46,440.20 210.72,437.78 210.99,439.63 211.26,440.11 211.53,439.48 211.79,441.24 212.06,440.78 212.33,438.12 212.59,439.36 212.86,438.10 213.13,439.94 213.39,438.05 213.66,440.36 213.93,439.66 214.19,440.40 214.46,438.93 214.73,437.21 214.99,441.38 215.26,438.84 215.53,440.82 215.79,439.56 216.06,439.85 216.33,441.31 216.59,439.34 216.86,440.67 217.13,436.86 217.39,439.85 217.66,438.32 217.93,438.36 218.19,438.39 218.46,438.61 218.73,439.99 218.99,434.95 219.26,436.75 219.53,434.87 219.79,436.21 220.06,432.89 220.33,432.78 220.59,430.68 220.86,431.64 221.13,432.36 221.40,431.34 221.66,432.99 221.93,432.13 222.20,435.26 222.46,436.61 222.73,435.14 223.00,437.43 223.26,433.18 223.53,433.20 223.80,433.38 224.06,434.00 224.33,433.98 224.60,433.09 224.86,432.24 225.13,432.33 225.40,429.78 225.66,427.74 225.93,426.78 226.20,430.23 226.46,423.64 226.73,425.88 227.00,427.65 227.26,426.30 227.53,424.76 227.80,426.22 228.06,427.86 228.33,428.90 228.60,426.75 228.86,429.42 229.13,429.15 229.40,430.46 229.66,430.81 229.93,428.27 230.20,426.24 230.46,427.74 230.73,428.29 231.00,425.30 231.27,422.82 231.53,423.46 231.80,416.57 232.07,416.52 232.33,411.95 232.60,410.17 232.87,407.85 233.13,407.72 233.40,403.13 233.67,402.98 233.93,401.73 234.20,405.34 234.47,405.70 234.73,408.94 235.00,409.42 235.27,412.91 235.53,417.28 235.80,418.12 236.07,421.33 236.33,423.07 236.60,423.41 236.87,422.94 237.13,426.95 237.40,426.19 237.67,427.20 237.93,422.97 238.20,422.89 238.47,421.64 238.73,422.72 239.00,424.87 239.27,424.26 239.53,423.91 239.80,424.97 240.07,426.95 240.34,426.93 240.60,429.28 240.87,430.38 241.14,428.69 241.40,432.25 241.67,435.58 241.94,434.21 242.20,435.29 242.47,435.30 242.74,435.94 243.00,438.42 243.27,436.91 243.54,436.16 243.80,433.63 244.07,437.08 244.34,435.39 244.60,435.68 244.87,439.17 245.14,439.13 245.40,435.78 245.67,439.44 245.94,438.99 246.20,437.42 246.47,439.43 246.74,436.40 247.00,436.99 247.27,436.71 247.54,437.17 247.80,439.78 248.07,436.93 248.34,437.19 248.60,437.47 248.87,438.98 249.14,438.31 249.40,439.88 249.67,437.85 249.94,437.11 250.21,438.15 250.47,438.86 250.74,437.61 251.01,439.19 251.27,441.19 251.54,438.08 251.81,438.90 252.07,440.60 252.34,438.00 252.61,437.75 252.87,437.43 253.14,439.37 253.41,439.52 253.67,438.66 253.94,438.90 254.21,440.50 254.47,439.97 254.74,437.01 255.01,438.82 255.27,438.96 255.54,439.75 255.81,438.51 256.07,437.96 256.34,438.19 256.61,436.46 256.87,438.72 257.14,437.97 257.41,439.33 257.67,437.37 257.94,438.12 258.21,437.39 258.47,437.24 258.74,439.50 259.01,437.95 259.28,439.09 259.54,437.00 259.81,438.51 260.08,436.11 260.34,437.59 260.61,437.45 260.88,438.72 261.14,438.04 261.41,437.38 261.68,438.47 261.94,437.37 262.21,437.51 262.48,437.46 262.74,435.99 263.01,435.25 263.28,435.58 263.54,434.09 263.81,434.59 264.08,434.95 264.34,434.03 264.61,431.84 264.88,430.11 265.14,431.19 265.41,430.66 265.68,431.92 265.94,429.78 266.21,429.93 266.48,431.23 266.74,429.86 267.01,430.61 267.28,433.48 267.54,433.70 267.81,433.14 268.08,433.25 268.34,432.23 268.61,434.79 268.88,434.69 269.15,435.42 269.41,434.94 269.68,436.03 269.95,436.20 270.21,437.19 270.48,438.94 270.75,437.82 271.01,435.42 271.28,436.50 271.55,435.87 271.81,437.03 272.08,438.89 272.35,438.78 272.61,437.56 272.88,438.75 273.15,437.47 273.41,436.66 273.68,436.71 273.95,437.46 274.21,440.44 274.48,436.88 274.75,440.26 275.01,440.38 275.28,438.44 275.55,438.63 275.81,437.91 276.08,438.69 276.35,439.58 276.61,438.75 276.88,440.04 277.15,440.30 277.41,439.21 277.68,439.20 277.95,438.70 278.22,439.23 278.48,437.34 278.75,439.32 279.02,439.06 279.28,437.68 279.55,441.60 279.82,437.55 280.08,437.69 280.35,439.18 280.62,436.30 280.88,437.79 281.15,436.84 281.42,437.57 281.68,438.65 281.95,439.24 282.22,440.26 282.48,439.87 282.75,440.37 283.02,439.59 283.28,438.22 283.55,440.28 283.82,438.20 284.08,438.03 284.35,440.82 284.62,439.85 284.88,439.11 285.15,439.81 285.42,439.97 285.68,437.06 285.95,438.71 286.22,437.30 286.48,438.99 286.75,437.95 287.02,440.59 287.28,439.50 287.55,437.77 287.82,438.80 288.09,437.25 288.35,438.87 288.62,439.53 288.89,439.16 289.15,436.31" fill="none" stroke="#2a9e5a" stroke-width="1.4" stroke-linejoin="round"/>
<text x="318.8" y="255.7" font-family="'Liberation Sans', sans-serif" font-weight="bold" font-size="22.5" fill="#000">d</text>
<line x1="363.4" y1="258.5" x2="363.4" y2="276.6" stroke="#222" stroke-width="1.4"/><line x1="359.9" y1="258.5" x2="366.9" y2="258.5" stroke="#222" stroke-width="1.4"/><line x1="359.9" y1="276.6" x2="366.9" y2="276.6" stroke="#222" stroke-width="1.4"/><text x="368.6" y="271.8" font-family="'Liberation Serif', serif" font-size="13.6" fill="#111">5000</text>
<text x="363.7" y="483.3" font-family="'Liberation Serif', serif" font-weight="bold" stroke="#111" stroke-width="0.25" font-size="13.4" fill="#111">Raman Shift (cm<tspan font-size="8.3" dy="-5.4">-1</tspan><tspan dy="5.4">)</tspan></text>
<line x1="516.5" y1="449" x2="585.4" y2="426.3" stroke="#222" stroke-width="1.1"/>
<path d="M396.40,426.3 L396.40,336.48 396.74,336.49 397.09,336.56 397.43,336.47 397.77,336.48 398.12,336.38 398.46,336.45 398.81,336.44 399.15,336.51 399.49,336.46 399.84,336.45 400.18,336.35 400.52,336.31 400.87,336.32 401.21,336.37 401.55,336.36 401.90,336.29 402.24,336.29 402.58,336.44 402.93,336.53 403.27,336.57 403.62,336.39 403.96,336.33 404.30,336.31 404.65,336.42 404.99,336.44 405.33,336.40 405.68,336.46 406.02,336.51 406.36,336.51 406.71,336.37 407.05,336.40 407.40,336.37 407.74,336.47 408.08,336.46 408.43,336.43 408.77,336.38 409.11,336.26 409.46,336.33 409.80,336.33 410.14,336.43 410.49,336.43 410.83,336.40 411.17,336.35 411.52,336.30 411.86,336.27 412.21,336.31 412.55,336.27 412.89,336.24 413.24,336.10 413.58,336.04 413.92,335.89 414.27,335.83 414.61,335.69 414.95,335.55 415.30,335.20 415.64,334.87 415.99,334.52 416.33,334.29 416.67,334.36 417.02,334.54 417.36,334.82 417.70,334.94 418.05,335.22 418.39,335.39 418.73,335.72 419.08,335.86 419.42,336.02 419.76,336.04 420.11,336.06 420.45,336.00 420.80,336.05 421.14,336.02 421.48,336.04 421.83,336.00 422.17,336.04 422.51,336.12 422.86,336.18 423.20,336.23 423.54,336.23 423.89,336.18 424.23,336.21 424.58,336.10 424.92,336.12 425.26,336.03 425.61,336.05 425.95,336.03 426.29,336.06 426.64,336.15 426.98,336.20 427.32,336.10 427.67,336.06 428.01,336.10 428.35,336.26 428.70,336.33 429.04,336.24 429.39,336.12 429.73,335.99 430.07,336.01 430.42,336.13 430.76,336.15 431.10,336.09 431.45,336.06 431.79,336.00 432.13,335.99 432.48,336.06 432.82,336.25 433.17,336.26 433.51,336.27 433.85,336.13 434.20,336.09 434.54,335.88 434.88,335.95 435.23,335.97 435.57,336.19 435.91,336.16 436.26,336.18 436.60,335.97 436.94,336.03 437.29,336.00 437.63,336.07 437.98,335.89 438.32,335.95 438.66,336.00 439.01,336.08 439.35,336.03 439.69,336.00 440.04,336.07 440.38,336.07 440.72,336.13 441.07,336.06 441.41,336.03 441.76,335.91 442.10,335.79 442.44,335.78 442.79,335.85 443.13,335.98 443.47,335.98 443.82,335.94 444.16,335.82 444.50,335.85 444.85,335.85 445.19,335.98 445.53,335.95 445.88,335.97 446.22,336.02 446.57,336.04 446.91,336.02 447.25,335.85 447.60,335.76 447.94,335.75 448.28,335.83 448.63,335.93 448.97,335.87 449.31,335.85 449.66,335.87 450.00,335.98 450.35,335.98 450.69,335.85 451.03,335.83 451.38,335.86 451.72,335.97 452.06,335.91 452.41,335.99 452.75,335.96 453.09,335.97 453.44,335.76 453.78,335.72 454.12,335.65 454.47,335.74 454.81,335.78 455.16,335.77 455.50,335.85 455.84,335.77 456.19,335.78 456.53,335.70 456.87,335.68 457.22,335.73 457.56,335.74 457.90,335.78 458.25,335.84 458.59,335.80 458.94,335.82 459.28,335.67 459.62,335.57 459.97,335.52 460.31,335.54 460.65,335.59 461.00,335.64 461.34,335.53 461.68,335.48 462.03,335.33 462.37,335.49 462.71,335.50 463.06,335.53 463.40,335.37 463.75,335.38 464.09,335.29 464.43,335.17 464.78,334.65 465.12,334.09 465.46,333.18 465.81,332.35 466.15,331.89 466.49,332.30 466.84,333.20 467.18,334.06 467.53,334.70 467.87,335.03 468.21,335.16 468.56,335.18 468.90,335.25 469.24,335.30 469.59,335.32 469.93,335.36 470.27,335.22 470.62,335.18 470.96,335.14 471.30,335.15 471.65,335.03 471.99,334.96 472.34,334.94 472.68,334.88 473.02,334.75 473.37,334.56 473.71,334.40 474.05,334.16 474.40,333.91 474.74,333.50 475.08,332.85 475.43,331.81 475.77,330.34 476.12,328.17 476.46,325.32 476.80,321.71 477.15,317.74 477.49,314.06 477.83,311.84 478.18,311.96 478.52,314.26 478.86,317.76 479.21,321.60 479.55,325.03 479.89,328.00 480.24,330.07 480.58,331.64 480.93,332.57 481.27,333.16 481.61,333.48 481.96,333.60 482.30,333.72 482.64,333.81 482.99,334.08 483.33,334.10 483.67,333.99 484.02,333.64 484.36,333.52 484.71,333.25 485.05,333.00 485.39,332.61 485.74,332.11 486.08,331.41 486.42,330.16 486.77,328.15 487.11,324.94 487.45,320.33 487.80,314.29 488.14,306.98 488.48,299.05 488.83,291.82 489.17,287.25 489.52,287.19 489.86,291.76 490.20,298.99 490.55,307.05 490.89,314.46 491.23,320.61 491.58,325.07 491.92,328.10 492.26,330.14 492.61,331.55 492.95,332.30 493.30,332.74 493.64,333.02 493.98,333.41 494.33,333.57 494.67,333.71 495.01,333.69 495.36,333.81 495.70,333.60 496.04,333.15 496.39,332.20 496.73,331.00 497.07,329.53 497.42,328.09 497.76,327.47 498.11,328.03 498.45,329.53 498.79,331.06 499.14,332.39 499.48,333.31 499.82,333.90 500.17,334.31 500.51,334.57 500.85,334.72 501.20,334.72 501.54,334.77 501.89,334.73 502.23,334.72 502.57,334.75 502.92,334.91 503.26,335.07 503.60,335.04 503.95,334.96 504.29,334.90 504.63,334.95 504.98,334.98 505.32,334.98 505.66,334.88 506.01,334.87 506.35,334.95 506.70,335.04 507.04,335.04 507.38,334.94 507.73,334.89 508.07,334.97 508.41,334.96 508.76,334.98 509.10,334.84 509.44,334.83 509.79,334.85 510.13,334.99 510.48,334.98 510.82,334.91 511.16,334.89 511.51,334.91 511.85,334.90 512.19,334.86 512.54,334.85 512.88,334.89 513.22,334.85 513.57,334.73 513.91,334.53 514.25,334.27 514.60,333.87 514.94,333.28 515.29,332.56 515.63,331.56 515.97,330.59 516.32,329.65 516.66,329.35 517.00,329.69 517.35,330.59 517.69,331.71 518.03,332.63 518.38,333.36 518.72,333.82 519.07,334.27 519.41,334.53 519.75,334.61 520.10,334.56 520.44,334.51 520.78,334.57 521.13,334.60 521.47,334.74 521.81,334.62 522.16,334.62 522.50,334.48 522.84,334.47 523.19,334.32 523.53,334.17 523.88,334.07 524.22,333.98 524.56,333.76 524.91,333.63 525.25,333.35 525.59,333.29 525.94,333.04 526.28,332.92 526.62,332.71 526.97,332.62 527.31,332.47 527.66,332.34 528.00,332.28 528.34,332.25 528.69,332.30 529.03,331.97 529.37,331.58 529.72,330.88 530.06,329.76 530.40,327.72 530.75,324.43 531.09,319.54 531.43,312.71 531.78,304.60 532.12,296.66 532.47,291.50 532.81,291.40 533.15,296.50 533.50,304.24 533.84,312.17 534.18,318.89 534.53,323.87 534.87,327.21 535.21,329.07 535.56,329.97 535.90,330.32 536.25,330.46 536.59,330.44 536.93,330.03 537.28,329.16 537.62,327.81 537.96,325.43 538.31,321.79 538.65,316.11 538.99,308.26 539.34,298.22 539.68,286.40 540.02,274.57 540.37,265.19 540.71,261.68 541.06,265.43 541.40,274.80 541.74,286.69 542.09,298.53 542.43,308.66 542.77,316.56 543.12,322.05 543.46,325.81 543.80,328.24 544.15,329.78 544.49,330.63 544.84,330.87 545.18,330.52 545.52,328.94 545.87,325.84 546.21,321.25 546.55,317.33 546.90,317.55 547.24,321.88 547.58,326.83 547.93,330.47 548.27,332.53 548.61,333.60 548.96,334.00 549.30,334.30 549.65,334.48 549.99,334.70 550.33,334.89 550.68,334.95 551.02,334.99 551.36,334.94 551.71,334.84 552.05,334.81 552.39,334.86 552.74,335.11 553.08,335.19 553.43,335.28 553.77,335.34 554.11,335.37 554.46,335.40 554.80,335.44 555.14,335.50 555.49,335.39 555.83,335.39 556.17,335.36 556.52,335.39 556.86,335.31 557.20,335.29 557.55,335.34 557.89,335.36 558.24,335.42 558.58,335.36 558.92,335.23 559.27,335.10 559.61,335.04 559.95,334.96 560.30,334.98 560.64,334.74 560.98,334.44 561.33,333.90 561.67,333.22 562.02,332.12 562.36,330.38 562.70,328.02 563.05,325.06 563.39,321.62 563.73,318.05 564.08,315.25 564.42,314.18 564.76,315.33 565.11,317.96 565.45,321.42 565.79,324.85 566.14,328.02 566.48,330.44 566.83,332.22 567.17,333.41 567.51,334.14 567.86,334.58 568.20,334.94 568.54,335.13 568.89,335.30 569.23,335.42 569.57,335.56 569.92,335.53 570.26,335.54 570.61,335.57 570.95,335.72 571.29,335.80 571.64,335.88 571.98,335.91 572.32,335.94 572.67,335.97 573.01,336.01 573.35,336.01 573.70,336.03 574.04,336.03 574.38,336.01 574.73,336.02 575.07,336.00 575.42,335.98 575.76,336.06 576.10,336.11 576.45,336.19 576.79,336.13 577.13,336.16 577.48,336.17 577.82,336.20 578.16,336.17 578.51,336.22 578.85,336.20 579.20,336.30 579.54,336.17 579.88,336.16 580.23,336.17 580.57,336.27 580.91,336.30 581.26,336.28 581.60,336.24 581.94,336.29 582.29,336.17 582.63,336.21 582.97,336.18 583.32,336.33 583.66,336.40 584.01,336.40 584.35,336.46 584.69,336.40 585.04,336.34 585.38,336.27 L585.38,426.3 Z" fill="#fff" stroke="#3c3c3c" stroke-width="1.3" stroke-linejoin="miter"/>
<text x="387.5" y="327.5" font-family="'Liberation Sans', sans-serif" font-size="11.8" fill="#111" stroke="#111" stroke-width="0.25">10<tspan font-size="6.8" dy="-4.6" stroke-width="0.05">-6</tspan><tspan dy="4.6" dx="1"> M</tspan></text>
<path d="M379.00,432.2 L379.00,360.23 379.34,360.22 379.69,360.37 380.03,360.18 380.37,360.10 380.72,360.27 381.06,360.33 381.41,360.58 381.75,360.45 382.09,360.26 382.44,360.19 382.78,360.18 383.12,360.36 383.47,360.42 383.81,360.43 384.15,360.55 384.50,360.43 384.84,360.39 385.18,360.34 385.53,360.29 385.87,360.46 386.22,360.50 386.56,360.56 386.90,360.51 387.25,360.48 387.59,360.46 387.93,360.49 388.28,360.42 388.62,360.50 388.96,360.35 389.31,360.38 389.65,360.37 390.00,360.38 390.34,360.35 390.68,360.27 391.03,360.40 391.37,360.38 391.71,360.46 392.06,360.53 392.40,360.63 392.74,360.46 393.09,360.35 393.43,360.41 393.77,360.52 394.12,360.61 394.46,360.57 394.81,360.64 395.15,360.53 395.49,360.44 395.84,360.38 396.18,360.41 396.52,360.50 396.87,360.56 397.21,360.54 397.55,360.50 397.90,360.50 398.24,360.40 398.59,360.33 398.93,360.23 399.27,360.36 399.62,360.40 399.96,360.45 400.30,360.40 400.65,360.48 400.99,360.53 401.33,360.47 401.68,360.42 402.02,360.30 402.36,360.58 402.71,360.55 403.05,360.61 403.40,360.48 403.74,360.51 404.08,360.54 404.43,360.66 404.77,360.70 405.11,360.78 405.46,360.75 405.80,360.65 406.14,360.73 406.49,360.69 406.83,360.86 407.18,360.65 407.52,360.66 407.86,360.62 408.21,360.65 408.55,360.78 408.89,360.79 409.24,360.82 409.58,360.65 409.92,360.68 410.27,360.80 410.61,360.84 410.95,360.87 411.30,360.90 411.64,360.75 411.99,360.61 412.33,360.41 412.67,360.53 413.02,360.69 413.36,360.83 413.70,360.74 414.05,360.60 414.39,360.63 414.73,360.68 415.08,360.70 415.42,360.64 415.77,360.54 416.11,360.61 416.45,360.62 416.80,360.82 417.14,360.68 417.48,360.59 417.83,360.49 418.17,360.60 418.51,360.67 418.86,360.74 419.20,360.87 419.54,360.98 419.89,360.91 420.23,360.71 420.58,360.75 420.92,360.78 421.26,360.96 421.61,360.95 421.95,360.93 422.29,360.80 422.64,360.68 422.98,360.65 423.32,360.60 423.67,360.56 424.01,360.71 424.36,360.75 424.70,360.77 425.04,360.67 425.39,360.59 425.73,360.74 426.07,360.58 426.42,360.65 426.76,360.57 427.10,360.66 427.45,360.76 427.79,360.82 428.13,360.87 428.48,360.84 428.82,360.65 429.17,360.77 429.51,360.76 429.85,360.87 430.20,360.95 430.54,360.98 430.88,361.08 431.23,361.02 431.57,360.89 431.91,360.80 432.26,360.79 432.60,360.77 432.95,360.87 433.29,360.83 433.63,360.99 433.98,360.80 434.32,360.81 434.66,360.81 435.01,360.86 435.35,360.86 435.69,360.66 436.04,360.80 436.38,360.71 436.72,360.71 437.07,360.51 437.41,360.54 437.76,360.77 438.10,360.78 438.44,360.87 438.79,360.75 439.13,361.01 439.47,361.04 439.82,361.28 440.16,361.02 440.50,361.03 440.85,360.79 441.19,360.93 441.54,360.93 441.88,360.88 442.22,360.74 442.57,360.59 442.91,360.60 443.25,360.63 443.60,360.65 443.94,360.66 444.28,360.73 444.63,360.86 444.97,360.87 445.31,360.81 445.66,360.77 446.00,360.86 446.35,360.85 446.69,360.92 447.03,361.01 447.38,361.13 447.72,361.04 448.06,361.14 448.41,361.23 448.75,361.21 449.09,361.03 449.44,360.98 449.78,360.95 450.13,360.99 450.47,360.89 450.81,360.90 451.16,360.84 451.50,360.70 451.84,360.71 452.19,360.56 452.53,360.87 452.87,361.04 453.22,361.29 453.56,361.12 453.90,361.06 454.25,361.05 454.59,361.09 454.94,361.06 455.28,360.85 455.62,360.77 455.97,360.60 456.31,360.53 456.65,360.32 457.00,360.30 457.34,360.32 457.68,360.05 458.03,359.77 458.37,359.20 458.72,358.41 459.06,357.07 459.40,355.52 459.75,354.08 460.09,352.67 460.43,351.71 460.78,351.65 461.12,352.39 461.46,353.90 461.81,355.52 462.15,357.13 462.49,358.34 462.84,359.14 463.18,359.77 463.53,360.11 463.87,360.24 464.21,360.31 464.56,360.38 464.90,360.62 465.24,360.81 465.59,360.87 465.93,360.71 466.27,360.51 466.62,360.45 466.96,360.60 467.31,360.65 467.65,360.60 467.99,360.33 468.34,360.24 468.68,360.05 469.02,359.76 469.37,359.14 469.71,358.41 470.05,357.17 470.40,355.66 470.74,353.60 471.08,351.41 471.43,349.34 471.77,347.97 472.12,347.90 472.46,349.07 472.80,351.03 473.15,353.36 473.49,355.41 473.83,357.19 474.18,358.46 474.52,359.06 474.86,359.61 475.21,359.75 475.55,360.25 475.90,360.30 476.24,360.57 476.58,360.74 476.93,360.73 477.27,360.78 477.61,360.68 477.96,360.66 478.30,360.66 478.64,360.56 478.99,360.48 479.33,360.07 479.67,359.96 480.02,359.63 480.36,359.40 480.71,359.23 481.05,359.60 481.39,360.13 481.74,360.53 482.08,360.71 482.42,360.93 482.77,360.98 483.11,361.01 483.45,360.93 483.80,360.96 484.14,361.16 484.49,361.29 484.83,361.31 485.17,361.25 485.52,361.24 485.86,361.45 486.20,361.40 486.55,361.43 486.89,361.33 487.23,361.31 487.58,361.29 487.92,361.25 488.26,361.30 488.61,361.34 488.95,361.41 489.30,361.55 489.64,361.50 489.98,361.43 490.33,361.54 490.67,361.47 491.01,361.47 491.36,361.36 491.70,361.47 492.04,361.51 492.39,361.45 492.73,361.51 493.08,361.56 493.42,361.53 493.76,361.49 494.11,361.38 494.45,361.37 494.79,361.36 495.14,361.27 495.48,361.37 495.82,361.52 496.17,361.76 496.51,361.80 496.85,361.58 497.20,361.57 497.54,361.41 497.89,361.49 498.23,361.52 498.57,361.49 498.92,361.57 499.26,361.44 499.60,361.53 499.95,361.40 500.29,361.43 500.63,361.41 500.98,361.59 501.32,361.67 501.67,361.60 502.01,361.49 502.35,361.37 502.70,361.40 503.04,361.36 503.38,361.41 503.73,361.50 504.07,361.47 504.41,361.43 504.76,361.50 505.10,361.55 505.44,361.52 505.79,361.62 506.13,361.84 506.48,361.79 506.82,361.55 507.16,361.48 507.51,361.52 507.85,361.62 508.19,361.55 508.54,361.70 508.88,361.50 509.22,361.35 509.57,361.20 509.91,361.48 510.26,361.63 510.60,361.57 510.94,361.49 511.29,361.51 511.63,361.56 511.97,361.37 512.32,361.14 512.66,360.95 513.00,360.49 513.35,359.79 513.69,358.72 514.03,357.50 514.38,356.09 514.72,354.94 515.07,354.22 515.41,354.28 515.75,355.07 516.10,356.32 516.44,357.71 516.78,358.68 517.13,359.65 517.47,360.25 517.81,360.80 518.16,361.00 518.50,361.33 518.85,361.57 519.19,361.61 519.53,361.40 519.88,361.26 520.22,361.12 520.56,361.07 520.91,360.47 521.25,359.62 521.59,358.43 521.94,357.22 522.28,355.82 522.62,354.33 522.97,353.27 523.31,352.76 523.66,353.16 524.00,354.13 524.34,355.80 524.69,357.52 525.03,359.03 525.37,360.20 525.72,360.91 526.06,361.59 526.40,361.87 526.75,362.01 527.09,361.99 527.44,361.94 527.78,361.97 528.12,362.11 528.47,362.37 528.81,362.73 529.15,362.75 529.50,362.69 529.84,362.48 530.18,362.60 530.53,362.68 530.87,362.75 531.21,362.75 531.56,362.79 531.90,362.71 532.25,362.74 532.59,362.73 532.93,362.87 533.28,362.79 533.62,362.95 533.96,363.13 534.31,363.33 534.65,363.11 534.99,362.95 535.34,362.89 535.68,362.90 536.03,362.91 536.37,362.70 536.71,362.97 537.06,363.13 537.40,363.33 537.74,363.21 538.09,363.10 538.43,363.04 538.77,363.09 539.12,363.08 539.46,363.22 539.80,363.14 540.15,363.13 540.49,363.15 540.84,363.18 541.18,363.30 541.52,363.16 541.87,362.99 542.21,362.98 542.55,362.89 542.90,363.14 543.24,362.93 543.58,362.83 543.93,362.67 544.27,362.69 544.62,362.65 544.96,362.24 545.30,361.92 545.65,361.36 545.99,360.93 546.33,360.28 546.68,359.91 547.02,359.69 547.36,359.59 547.71,359.81 548.05,360.16 548.39,360.57 548.74,360.96 549.08,361.39 549.43,361.95 549.77,362.46 550.11,362.64 550.46,362.99 550.80,363.20 551.14,363.47 551.49,363.39 551.83,363.40 552.17,363.42 552.52,363.63 552.86,363.66 553.21,363.80 553.55,363.74 553.89,363.90 554.24,363.67 554.58,363.65 554.92,363.59 555.27,363.68 555.61,363.85 555.95,363.73 556.30,363.88 556.64,363.76 556.98,363.85 557.33,363.87 557.67,363.96 558.02,363.98 558.36,364.16 558.70,364.19 559.05,364.16 559.39,364.07 559.73,364.16 560.08,364.36 560.42,364.45 560.76,364.32 561.11,364.32 561.45,364.28 561.80,364.38 562.14,364.33 562.48,364.00 562.83,363.96 563.17,364.11 563.51,364.23 563.86,364.25 564.20,364.14 564.54,364.35 564.89,364.55 565.23,364.39 565.57,364.36 565.92,364.31 566.26,364.37 566.61,364.38 566.95,364.48 567.29,364.71 567.64,364.78 567.98,364.63 L567.98,432.2 Z" fill="#fff" stroke="#e04848" stroke-width="1.3" stroke-linejoin="miter"/>
<text x="362.6" y="356.5" font-family="'Liberation Sans', sans-serif" font-size="11.8" fill="#e02a2a" stroke="#e02a2a" stroke-width="0.25">10<tspan font-size="6.8" dy="-4.6" stroke-width="0.05">-9</tspan><tspan dy="4.6" dx="1"> M</tspan></text>
<path d="M361.80,437.5 L361.80,388.02 362.14,388.08 362.49,388.32 362.83,388.34 363.17,388.63 363.52,388.65 363.86,388.57 364.21,388.30 364.55,388.31 364.89,388.39 365.24,388.37 365.58,388.49 365.92,388.56 366.27,388.46 366.61,388.38 366.95,388.42 367.30,388.51 367.64,388.65 367.98,388.70 368.33,388.66 368.67,388.59 369.02,388.72 369.36,388.99 369.70,388.97 370.05,388.87 370.39,388.66 370.73,388.54 371.08,388.52 371.42,388.63 371.76,388.84 372.11,388.79 372.45,388.81 372.80,388.72 373.14,388.79 373.48,388.85 373.83,388.91 374.17,388.96 374.51,388.71 374.86,388.66 375.20,388.73 375.54,389.10 375.89,389.22 376.23,389.08 376.57,388.79 376.92,388.81 377.26,388.92 377.61,388.91 377.95,388.94 378.29,388.93 378.64,389.13 378.98,388.98 379.32,388.98 379.67,388.79 380.01,389.05 380.35,389.01 380.70,389.04 381.04,389.03 381.39,389.13 381.73,389.18 382.07,389.27 382.42,389.05 382.76,389.15 383.10,389.05 383.45,388.92 383.79,388.99 384.13,388.86 384.48,389.09 384.82,388.88 385.16,388.92 385.51,388.81 385.85,388.82 386.20,388.74 386.54,388.73 386.88,388.99 387.23,388.90 387.57,388.95 387.91,388.76 388.26,388.89 388.60,389.04 388.94,389.16 389.29,389.13 389.63,389.01 389.98,388.93 390.32,389.04 390.66,389.15 391.01,389.10 391.35,388.81 391.69,388.95 392.04,389.10 392.38,389.33 392.72,389.15 393.07,389.00 393.41,388.88 393.75,388.81 394.10,388.84 394.44,388.88 394.79,388.77 395.13,388.76 395.47,388.88 395.82,388.97 396.16,389.01 396.50,388.74 396.85,388.77 397.19,388.76 397.53,388.84 397.88,388.69 398.22,388.74 398.57,388.78 398.91,389.00 399.25,388.92 399.60,389.06 399.94,388.98 400.28,388.87 400.63,388.80 400.97,388.80 401.31,389.02 401.66,388.98 402.00,388.98 402.34,389.00 402.69,389.16 403.03,389.27 403.38,389.29 403.72,389.22 404.06,389.22 404.41,389.21 404.75,389.20 405.09,389.13 405.44,389.06 405.78,389.26 406.12,389.25 406.47,389.21 406.81,388.94 407.16,388.93 407.50,388.98 407.84,388.90 408.19,388.71 408.53,388.71 408.87,388.66 409.22,388.89 409.56,388.87 409.90,389.15 410.25,389.29 410.59,389.31 410.93,389.14 411.28,388.86 411.62,388.74 411.97,388.80 412.31,388.71 412.65,388.80 413.00,388.79 413.34,389.06 413.68,389.02 414.03,389.03 414.37,388.89 414.71,388.88 415.06,388.69 415.40,388.78 415.75,388.98 416.09,389.17 416.43,389.20 416.78,388.95 417.12,389.07 417.46,388.96 417.81,389.14 418.15,389.00 418.49,388.98 418.84,389.01 419.18,389.00 419.52,389.11 419.87,389.05 420.21,389.05 420.56,388.99 420.90,388.99 421.24,388.96 421.59,389.00 421.93,388.89 422.27,388.78 422.62,388.70 422.96,388.72 423.30,388.87 423.65,389.05 423.99,388.93 424.34,388.95 424.68,388.61 425.02,388.67 425.37,388.61 425.71,388.60 426.05,388.52 426.40,388.58 426.74,388.82 427.08,388.99 427.43,388.89 427.77,389.10 428.11,389.10 428.46,389.09 428.80,389.04 429.15,389.12 429.49,389.16 429.83,389.12 430.18,389.07 430.52,389.17 430.86,389.07 431.21,388.95 431.55,388.98 431.89,388.97 432.24,388.97 432.58,388.80 432.93,388.88 433.27,388.94 433.61,389.01 433.96,388.98 434.30,389.03 434.64,388.87 434.99,388.86 435.33,388.94 435.67,389.17 436.02,389.27 436.36,389.20 436.70,389.19 437.05,389.17 437.39,389.10 437.74,389.18 438.08,389.19 438.42,389.28 438.77,389.27 439.11,389.16 439.45,388.96 439.80,388.84 440.14,388.72 440.48,388.74 440.83,388.47 441.17,388.32 441.52,387.97 441.86,387.40 442.20,386.71 442.55,386.07 442.89,385.47 443.23,385.01 443.58,384.90 443.92,385.27 444.26,385.94 444.61,386.73 444.95,387.58 445.29,388.15 445.64,388.51 445.98,388.68 446.33,388.85 446.67,388.81 447.01,388.83 447.36,388.76 447.70,388.81 448.04,388.71 448.39,388.63 448.73,388.62 449.07,388.54 449.42,388.63 449.76,388.64 450.11,388.75 450.45,388.70 450.79,388.73 451.14,388.59 451.48,388.44 451.82,388.04 452.17,387.60 452.51,387.01 452.85,386.73 453.20,385.97 453.54,385.24 453.88,384.17 454.23,383.34 454.57,382.85 454.92,382.89 455.26,383.63 455.60,384.68 455.95,385.63 456.29,386.44 456.63,387.05 456.98,387.54 457.32,387.90 457.66,387.99 458.01,388.45 458.35,388.63 458.70,388.83 459.04,388.59 459.38,388.69 459.73,388.70 460.07,388.75 460.41,388.64 460.76,388.54 461.10,388.52 461.44,388.68 461.79,389.04 462.13,389.23 462.47,389.40 462.82,389.24 463.16,389.14 463.51,388.83 463.85,388.79 464.19,388.58 464.54,388.69 464.88,388.86 465.22,389.11 465.57,389.26 465.91,389.06 466.25,388.89 466.60,388.73 466.94,388.73 467.29,388.99 467.63,389.24 467.97,389.21 468.32,389.05 468.66,388.84 469.00,388.88 469.35,388.80 469.69,388.82 470.03,388.89 470.38,389.06 470.72,388.93 471.06,388.88 471.41,388.67 471.75,388.88 472.10,388.79 472.44,388.94 472.78,388.80 473.13,388.85 473.47,388.77 473.81,388.64 474.16,388.87 474.50,389.00 474.84,389.21 475.19,389.24 475.53,389.21 475.88,389.24 476.22,389.03 476.56,389.16 476.91,389.15 477.25,389.18 477.59,389.04 477.94,389.02 478.28,389.10 478.62,388.92 478.97,388.88 479.31,388.72 479.65,388.90 480.00,388.71 480.34,388.83 480.69,388.77 481.03,388.95 481.37,388.83 481.72,388.74 482.06,388.72 482.40,388.60 482.75,388.69 483.09,388.71 483.43,388.91 483.78,389.02 484.12,389.05 484.47,389.28 484.81,389.33 485.15,389.24 485.50,388.98 485.84,388.88 486.18,389.00 486.53,389.01 486.87,389.00 487.21,389.20 487.56,389.27 487.90,389.34 488.24,389.16 488.59,389.15 488.93,389.33 489.28,389.42 489.62,389.56 489.96,389.12 490.31,389.11 490.65,389.12 490.99,389.64 491.34,389.61 491.68,389.34 492.02,389.21 492.37,389.16 492.71,389.15 493.06,389.03 493.40,389.20 493.74,389.49 494.09,389.62 494.43,389.38 494.77,389.48 495.12,389.22 495.46,389.21 495.80,388.64 496.15,388.63 496.49,388.33 496.83,388.13 497.18,387.53 497.52,387.05 497.87,386.72 498.21,386.53 498.55,386.92 498.90,387.44 499.24,388.08 499.58,388.42 499.93,388.73 500.27,389.20 500.61,389.43 500.96,389.52 501.30,389.39 501.65,389.23 501.99,389.18 502.33,389.23 502.68,389.32 503.02,389.31 503.36,389.23 503.71,389.07 504.05,388.72 504.39,388.20 504.74,387.51 505.08,386.70 505.42,385.90 505.77,385.09 506.11,384.99 506.46,385.08 506.80,385.99 507.14,386.68 507.49,387.73 507.83,388.35 508.17,388.81 508.52,389.20 508.86,389.49 509.20,389.78 509.55,389.80 509.89,389.97 510.24,390.10 510.58,390.16 510.92,389.95 511.27,389.86 511.61,389.88 511.95,390.24 512.30,390.35 512.64,390.35 512.98,390.32 513.33,390.29 513.67,390.32 514.01,390.23 514.36,390.11 514.70,390.23 515.05,390.27 515.39,390.41 515.73,390.22 516.08,390.22 516.42,390.40 516.76,390.47 517.11,390.36 517.45,390.27 517.79,390.19 518.14,390.09 518.48,390.02 518.83,390.13 519.17,390.33 519.51,390.34 519.86,390.45 520.20,390.47 520.54,390.48 520.89,390.42 521.23,390.51 521.57,390.68 521.92,390.83 522.26,390.85 522.60,390.43 522.95,390.25 523.29,390.16 523.64,390.52 523.98,390.47 524.32,390.65 524.67,390.67 525.01,390.77 525.35,390.64 525.70,390.57 526.04,390.55 526.38,390.56 526.73,390.51 527.07,390.38 527.42,390.17 527.76,390.07 528.10,389.93 528.45,389.91 528.79,389.57 529.13,389.61 529.48,389.34 529.82,389.20 530.16,388.99 530.51,389.09 530.85,389.36 531.19,389.48 531.54,389.65 531.88,390.14 532.23,390.34 532.57,390.59 532.91,390.55 533.26,390.81 533.60,390.81 533.94,390.85 534.29,391.02 534.63,391.16 534.97,391.13 535.32,391.21 535.66,391.04 536.01,391.23 536.35,391.12 536.69,391.39 537.04,391.37 537.38,391.48 537.72,391.38 538.07,391.46 538.41,391.40 538.75,391.64 539.10,391.49 539.44,391.59 539.78,391.44 540.13,391.54 540.47,391.38 540.82,391.39 541.16,391.24 541.50,391.18 541.85,391.22 542.19,391.23 542.53,391.52 542.88,391.44 543.22,391.63 543.56,391.51 543.91,391.60 544.25,391.56 544.60,391.53 544.94,391.49 545.28,391.64 545.63,391.80 545.97,391.96 546.31,391.90 546.66,391.78 547.00,391.50 547.34,391.55 547.69,391.66 548.03,391.81 548.37,391.84 548.72,391.90 549.06,391.96 549.41,392.00 549.75,391.92 550.09,391.75 550.44,391.61 550.78,391.58 L550.78,437.5 Z" fill="#fff" stroke="#2a6ed8" stroke-width="1.3" stroke-linejoin="miter"/>
<text x="338.5" y="385" font-family="'Liberation Sans', sans-serif" font-size="11.8" fill="#2466cc" stroke="#2466cc" stroke-width="0.25">10<tspan font-size="6.8" dy="-4.6" stroke-width="0.05">-10</tspan><tspan dy="4.6" dx="1"> M</tspan></text>
<path d="M344.50,442.8 L344.50,414.52 344.84,414.47 345.19,414.47 345.53,414.37 345.87,414.43 346.22,414.47 346.56,414.60 346.91,414.66 347.25,414.66 347.59,414.62 347.94,414.57 348.28,414.57 348.62,414.66 348.97,414.49 349.31,414.48 349.65,414.40 350.00,414.64 350.34,414.58 350.68,414.59 351.03,414.57 351.37,414.62 351.72,414.47 352.06,414.39 352.40,414.34 352.75,414.51 353.09,414.48 353.43,414.69 353.78,414.65 354.12,414.66 354.46,414.51 354.81,414.43 355.15,414.51 355.50,414.65 355.84,414.71 356.18,414.75 356.53,414.59 356.87,414.62 357.21,414.72 357.56,414.69 357.90,414.75 358.24,414.68 358.59,414.65 358.93,414.48 359.27,414.34 359.62,414.53 359.96,414.60 360.31,414.65 360.65,414.64 360.99,414.68 361.34,414.71 361.68,414.64 362.02,414.71 362.37,414.65 362.71,414.78 363.05,414.69 363.40,414.69 363.74,414.62 364.09,414.68 364.43,414.60 364.77,414.57 365.12,414.46 365.46,414.54 365.80,414.58 366.15,414.61 366.49,414.69 366.83,414.62 367.18,414.81 367.52,414.78 367.86,414.73 368.21,414.53 368.55,414.48 368.90,414.57 369.24,414.64 369.58,414.77 369.93,414.77 370.27,414.78 370.61,414.74 370.96,414.73 371.30,414.74 371.64,414.77 371.99,414.84 372.33,414.78 372.68,414.62 373.02,414.51 373.36,414.57 373.71,414.52 374.05,414.55 374.39,414.56 374.74,414.69 375.08,414.65 375.42,414.74 375.77,414.87 376.11,414.93 376.45,414.91 376.80,414.90 377.14,414.85 377.49,414.94 377.83,414.79 378.17,414.85 378.52,414.61 378.86,414.68 379.20,414.61 379.55,414.68 379.89,414.75 380.23,414.86 380.58,414.84 380.92,414.87 381.27,414.80 381.61,414.89 381.95,414.77 382.30,414.84 382.64,414.78 382.98,414.81 383.33,414.80 383.67,414.75 384.01,414.70 384.36,414.74 384.70,414.79 385.04,414.75 385.39,414.67 385.73,414.64 386.08,414.71 386.42,414.77 386.76,414.83 387.11,414.79 387.45,414.78 387.79,414.69 388.14,414.54 388.48,414.54 388.82,414.52 389.17,414.65 389.51,414.58 389.86,414.73 390.20,414.72 390.54,414.82 390.89,414.75 391.23,414.75 391.57,414.63 391.92,414.69 392.26,414.80 392.60,414.96 392.95,415.06 393.29,415.05 393.63,415.02 393.98,414.89 394.32,414.88 394.67,414.84 395.01,414.79 395.35,414.92 395.70,414.82 396.04,414.90 396.38,414.80 396.73,414.94 397.07,414.86 397.41,414.82 397.76,414.78 398.10,414.77 398.45,414.79 398.79,414.79 399.13,414.83 399.48,414.88 399.82,414.84 400.16,414.91 400.51,414.82 400.85,414.92 401.19,414.90 401.54,414.96 401.88,414.87 402.22,414.82 402.57,414.74 402.91,414.82 403.26,414.93 403.60,415.06 403.94,415.02 404.29,414.97 404.63,414.80 404.97,414.68 405.32,414.62 405.66,414.69 406.00,414.74 406.35,414.68 406.69,414.76 407.04,414.81 407.38,414.82 407.72,414.94 408.07,415.01 408.41,415.10 408.75,414.99 409.10,414.93 409.44,415.06 409.78,414.92 410.13,414.88 410.47,414.77 410.81,414.82 411.16,415.01 411.50,414.91 411.85,414.92 412.19,414.84 412.53,414.98 412.88,415.10 413.22,415.11 413.56,415.22 413.91,415.13 414.25,415.12 414.59,415.03 414.94,415.04 415.28,415.01 415.63,414.93 415.97,414.91 416.31,414.85 416.66,414.85 417.00,414.79 417.34,414.89 417.69,414.82 418.03,415.07 418.37,415.15 418.72,415.33 419.06,415.18 419.40,415.03 419.75,415.04 420.09,415.06 420.44,415.14 420.78,415.01 421.12,415.06 421.47,414.97 421.81,415.02 422.15,414.82 422.50,414.82 422.84,414.82 423.18,414.87 423.53,414.82 423.87,414.75 424.22,414.64 424.56,414.57 424.90,414.13 425.25,413.93 425.59,413.66 425.93,413.58 426.28,413.46 426.62,413.63 426.96,413.89 427.31,414.18 427.65,414.38 427.99,414.62 428.34,414.83 428.68,414.83 429.03,414.93 429.37,415.01 429.71,415.12 430.06,414.97 430.40,414.95 430.74,414.95 431.09,415.04 431.43,415.09 431.77,414.97 432.12,415.16 432.46,415.02 432.81,415.24 433.15,415.10 433.49,415.05 433.84,414.93 434.18,414.93 434.52,415.00 434.87,414.99 435.21,414.78 435.55,414.60 435.90,414.34 436.24,414.08 436.58,413.66 436.93,413.25 437.27,413.14 437.62,413.26 437.96,413.46 438.30,413.62 438.65,413.98 438.99,414.23 439.33,414.58 439.68,414.63 440.02,414.75 440.36,414.84 440.71,414.93 441.05,415.18 441.40,415.35 441.74,415.37 442.08,415.36 442.43,415.29 442.77,415.28 443.11,415.16 443.46,415.21 443.80,415.22 444.14,415.29 444.49,415.17 444.83,415.19 445.17,415.15 445.52,415.23 445.86,415.33 446.21,415.35 446.55,415.21 446.89,415.13 447.24,415.06 447.58,415.12 447.92,415.20 448.27,415.46 448.61,415.53 448.95,415.38 449.30,415.28 449.64,415.11 449.99,415.14 450.33,415.19 450.67,415.39 451.02,415.35 451.36,415.14 451.70,415.15 452.05,415.24 452.39,415.32 452.73,415.29 453.08,415.26 453.42,415.17 453.76,415.20 454.11,415.20 454.45,415.27 454.80,415.13 455.14,415.19 455.48,415.21 455.83,415.34 456.17,415.31 456.51,415.44 456.86,415.37 457.20,415.35 457.54,415.15 457.89,415.11 458.23,415.20 458.58,415.54 458.92,415.53 459.26,415.42 459.61,415.24 459.95,415.36 460.29,415.38 460.64,415.37 460.98,415.23 461.32,415.26 461.67,415.32 462.01,415.54 462.35,415.55 462.70,415.47 463.04,415.40 463.39,415.48 463.73,415.54 464.07,415.46 464.42,415.41 464.76,415.45 465.10,415.45 465.45,415.34 465.79,415.32 466.13,415.39 466.48,415.55 466.82,415.52 467.17,415.46 467.51,415.37 467.85,415.29 468.20,415.28 468.54,415.27 468.88,415.31 469.23,415.45 469.57,415.41 469.91,415.44 470.26,415.33 470.60,415.51 470.94,415.53 471.29,415.55 471.63,415.51 471.98,415.50 472.32,415.49 472.66,415.54 473.01,415.59 473.35,415.73 473.69,415.71 474.04,415.72 474.38,415.61 474.72,415.46 475.07,415.46 475.41,415.45 475.76,415.57 476.10,415.52 476.44,415.47 476.79,415.35 477.13,415.39 477.47,415.50 477.82,415.53 478.16,415.47 478.50,415.42 478.85,415.29 479.19,415.12 479.53,414.81 479.88,414.78 480.22,414.68 480.57,414.63 480.91,414.44 481.25,414.51 481.60,414.75 481.94,415.01 482.28,415.14 482.63,415.24 482.97,415.27 483.31,415.37 483.66,415.40 484.00,415.46 484.35,415.42 484.69,415.40 485.03,415.45 485.38,415.48 485.72,415.46 486.06,415.46 486.41,415.37 486.75,415.24 487.09,415.15 487.44,415.16 487.78,415.14 488.12,414.90 488.47,414.77 488.81,414.69 489.16,414.79 489.50,414.88 489.84,415.05 490.19,415.33 490.53,415.37 490.87,415.47 491.22,415.42 491.56,415.53 491.90,415.60 492.25,415.69 492.59,415.65 492.94,415.57 493.28,415.54 493.62,415.53 493.97,415.61 494.31,415.60 494.65,415.71 495.00,415.68 495.34,415.81 495.68,415.80 496.03,415.76 496.37,415.76 496.71,415.73 497.06,415.72 497.40,415.52 497.75,415.63 498.09,415.68 498.43,415.81 498.78,415.75 499.12,415.73 499.46,415.65 499.81,415.59 500.15,415.63 500.49,415.70 500.84,415.86 501.18,415.78 501.53,415.75 501.87,415.57 502.21,415.72 502.56,415.67 502.90,415.79 503.24,415.80 503.59,415.88 503.93,415.88 504.27,415.64 504.62,415.63 504.96,415.48 505.30,415.63 505.65,415.66 505.99,415.72 506.34,415.78 506.68,415.80 507.02,415.82 507.37,415.73 507.71,415.61 508.05,415.64 508.40,415.81 508.74,415.87 509.08,415.91 509.43,415.74 509.77,415.84 510.12,415.84 510.46,415.87 510.80,415.70 511.15,415.64 511.49,415.74 511.83,415.84 512.18,415.92 512.52,415.81 512.86,415.71 513.21,415.70 513.55,415.75 513.89,415.84 514.24,415.79 514.58,415.79 514.93,415.79 515.27,415.84 515.61,415.81 515.96,415.70 516.30,415.67 516.64,415.65 516.99,415.75 517.33,415.79 517.67,415.80 518.02,415.89 518.36,415.94 518.71,415.99 519.05,415.85 519.39,415.74 519.74,415.79 520.08,415.88 520.42,415.88 520.77,415.81 521.11,415.87 521.45,415.94 521.80,415.99 522.14,415.91 522.48,415.87 522.83,415.82 523.17,415.87 523.52,415.76 523.86,415.76 524.20,415.68 524.55,415.91 524.89,416.03 525.23,416.23 525.58,416.20 525.92,416.06 526.26,416.02 526.61,415.96 526.95,416.03 527.30,415.91 527.64,415.89 527.98,415.88 528.33,416.06 528.67,416.10 529.01,416.22 529.36,416.29 529.70,416.21 530.04,416.06 530.39,415.82 530.73,415.90 531.07,415.87 531.42,415.93 531.76,416.01 532.11,416.11 532.45,416.13 532.79,416.07 533.14,416.02 533.48,416.00 L533.48,442.8 Z" fill="#fff" stroke="#3aa060" stroke-width="1.3" stroke-linejoin="miter"/>
<text x="324" y="412" font-family="'Liberation Sans', sans-serif" font-size="11.8" fill="#2a9e58" stroke="#2a9e58" stroke-width="0.25">10<tspan font-size="6.8" dy="-4.6" stroke-width="0.05">-12</tspan><tspan dy="4.6" dx="1"> M</tspan></text>
<path d="M327.30,449 L327.30,440.02 327.64,440.02 327.99,440.04 328.33,439.97 328.67,440.00 329.02,440.04 329.36,440.09 329.71,440.02 330.05,440.01 330.39,439.99 330.74,439.94 331.08,439.89 331.42,439.92 331.77,440.03 332.11,440.08 332.45,440.08 332.80,440.07 333.14,439.97 333.48,439.91 333.83,439.91 334.17,440.00 334.52,440.00 334.86,439.98 335.20,439.97 335.55,439.94 335.89,439.90 336.23,439.88 336.58,439.95 336.92,440.00 337.26,439.93 337.61,439.92 337.95,439.90 338.30,439.99 338.64,439.99 338.98,440.04 339.33,440.04 339.67,440.03 340.01,440.05 340.36,440.07 340.70,440.10 341.04,440.12 341.39,440.06 341.73,440.08 342.07,440.04 342.42,440.03 342.76,440.00 343.11,439.97 343.45,439.99 343.79,439.99 344.14,440.05 344.48,440.05 344.82,440.06 345.17,439.97 345.51,439.99 345.85,440.02 346.20,440.10 346.54,440.11 346.89,440.05 347.23,440.00 347.57,439.98 347.92,439.95 348.26,439.94 348.60,439.98 348.95,439.99 349.29,440.09 349.63,440.02 349.98,440.06 350.32,439.96 350.66,440.02 351.01,439.97 351.35,440.01 351.70,440.00 352.04,440.02 352.38,440.04 352.73,440.09 353.07,440.09 353.41,440.10 353.76,440.05 354.10,440.07 354.44,440.12 354.79,440.04 355.13,440.02 355.48,439.89 355.82,439.95 356.16,439.97 356.51,440.15 356.85,440.18 357.19,440.24 357.54,440.16 357.88,440.13 358.22,440.09 358.57,440.10 358.91,440.13 359.25,440.12 359.60,440.08 359.94,440.02 360.29,439.99 360.63,439.99 360.97,440.05 361.32,440.05 361.66,440.03 362.00,440.01 362.35,440.03 362.69,440.07 363.03,440.08 363.38,440.09 363.72,440.02 364.07,439.98 364.41,439.99 364.75,439.98 365.10,440.03 365.44,439.99 365.78,440.02 366.13,440.03 366.47,440.03 366.81,440.03 367.16,439.99 367.50,440.01 367.84,440.13 368.19,440.09 368.53,440.08 368.88,439.99 369.22,440.09 369.56,440.08 369.91,440.00 370.25,440.02 370.59,439.99 370.94,440.07 371.28,439.98 371.62,439.98 371.97,439.97 372.31,440.04 372.66,440.11 373.00,440.11 373.34,440.10 373.69,440.06 374.03,440.08 374.37,440.07 374.72,440.10 375.06,440.08 375.40,440.07 375.75,440.06 376.09,440.08 376.43,440.06 376.78,440.11 377.12,440.09 377.47,440.14 377.81,440.09 378.15,440.15 378.50,440.05 378.84,440.11 379.18,440.07 379.53,440.10 379.87,440.04 380.21,440.12 380.56,440.18 380.90,440.13 381.25,440.04 381.59,440.07 381.93,440.07 382.28,440.08 382.62,440.02 382.96,440.14 383.31,440.14 383.65,440.19 383.99,440.10 384.34,440.08 384.68,440.07 385.02,440.12 385.37,440.09 385.71,440.07 386.06,440.08 386.40,440.11 386.74,440.10 387.09,440.09 387.43,440.09 387.77,440.07 388.12,440.04 388.46,440.04 388.80,440.02 389.15,440.04 389.49,440.00 389.84,440.05 390.18,440.05 390.52,440.06 390.87,440.09 391.21,440.16 391.55,440.23 391.90,440.16 392.24,440.14 392.58,440.10 392.93,440.15 393.27,440.09 393.61,440.08 393.96,440.13 394.30,440.17 394.65,440.15 394.99,440.09 395.33,440.05 395.68,440.09 396.02,440.17 396.36,440.15 396.71,440.13 397.05,440.06 397.39,440.07 397.74,440.08 398.08,440.11 398.43,440.09 398.77,440.05 399.11,440.07 399.46,440.13 399.80,440.18 400.14,440.12 400.49,440.10 400.83,440.10 401.17,440.10 401.52,440.08 401.86,440.06 402.20,440.11 402.55,440.11 402.89,440.15 403.24,440.14 403.58,440.15 403.92,440.11 404.27,440.09 404.61,440.14 404.95,440.16 405.30,440.12 405.64,440.05 405.98,440.07 406.33,440.11 406.67,440.17 407.02,440.15 407.36,440.20 407.70,440.14 408.05,440.17 408.39,440.09 408.73,440.16 409.08,440.16 409.42,440.15 409.76,440.14 410.11,440.08 410.45,440.12 410.79,440.11 411.14,440.08 411.48,440.06 411.83,440.08 412.17,440.14 412.51,440.16 412.86,440.09 413.20,440.13 413.54,440.19 413.89,440.25 414.23,440.14 414.57,440.08 414.92,440.08 415.26,440.08 415.61,440.15 415.95,440.14 416.29,440.18 416.64,440.09 416.98,440.05 417.32,440.00 417.67,440.02 418.01,440.01 418.35,439.98 418.70,439.92 419.04,439.86 419.38,439.84 419.73,439.75 420.07,439.66 420.42,439.61 420.76,439.71 421.10,439.80 421.45,439.89 421.79,439.90 422.13,440.00 422.48,440.05 422.82,440.07 423.16,440.07 423.51,440.11 423.85,440.18 424.20,440.22 424.54,440.22 424.88,440.18 425.23,440.14 425.57,440.15 425.91,440.12 426.26,440.13 426.60,440.04 426.94,440.07 427.29,440.05 427.63,440.07 427.97,440.11 428.32,440.11 428.66,440.13 429.01,440.11 429.35,440.11 429.69,440.17 430.04,440.16 430.38,440.19 430.72,440.10 431.07,440.11 431.41,440.09 431.75,440.12 432.10,440.12 432.44,440.14 432.79,440.20 433.13,440.21 433.47,440.21 433.82,440.14 434.16,440.23 434.50,440.29 434.85,440.32 435.19,440.26 435.53,440.18 435.88,440.16 436.22,440.15 436.56,440.17 436.91,440.15 437.25,440.12 437.60,440.13 437.94,440.17 438.28,440.13 438.63,440.12 438.97,440.15 439.31,440.20 439.66,440.20 440.00,440.11 440.34,440.16 440.69,440.12 441.03,440.13 441.38,440.09 441.72,440.20 442.06,440.23 442.41,440.20 442.75,440.13 443.09,440.16 443.44,440.26 443.78,440.20 444.12,440.14 444.47,440.08 444.81,440.13 445.15,440.20 445.50,440.24 445.84,440.18 446.19,440.14 446.53,440.11 446.87,440.18 447.22,440.23 447.56,440.22 447.90,440.16 448.25,440.17 448.59,440.22 448.93,440.34 449.28,440.30 449.62,440.33 449.97,440.20 450.31,440.19 450.65,440.11 451.00,440.14 451.34,440.13 451.68,440.13 452.03,440.15 452.37,440.16 452.71,440.20 453.06,440.20 453.40,440.22 453.74,440.24 454.09,440.26 454.43,440.26 454.78,440.21 455.12,440.21 455.46,440.22 455.81,440.20 456.15,440.23 456.49,440.26 456.84,440.33 457.18,440.28 457.52,440.17 457.87,440.12 458.21,440.14 458.56,440.22 458.90,440.23 459.24,440.22 459.59,440.24 459.93,440.23 460.27,440.27 460.62,440.25 460.96,440.23 461.30,440.20 461.65,440.16 461.99,440.17 462.33,440.10 462.68,440.07 463.02,440.11 463.37,440.16 463.71,440.22 464.05,440.18 464.40,440.18 464.74,440.16 465.08,440.15 465.43,440.10 465.77,440.13 466.11,440.18 466.46,440.21 466.80,440.19 467.15,440.21 467.49,440.30 467.83,440.27 468.18,440.27 468.52,440.28 468.86,440.31 469.21,440.34 469.55,440.19 469.89,440.23 470.24,440.19 470.58,440.21 470.92,440.19 471.27,440.22 471.61,440.33 471.96,440.34 472.30,440.30 472.64,440.24 472.99,440.19 473.33,440.19 473.67,440.23 474.02,440.23 474.36,440.23 474.70,440.25 475.05,440.27 475.39,440.35 475.74,440.39 476.08,440.34 476.42,440.25 476.77,440.14 477.11,440.14 477.45,440.17 477.80,440.18 478.14,440.19 478.48,440.16 478.83,440.22 479.17,440.24 479.51,440.24 479.86,440.25 480.20,440.27 480.55,440.30 480.89,440.30 481.23,440.25 481.58,440.25 481.92,440.20 482.26,440.26 482.61,440.28 482.95,440.27 483.29,440.28 483.64,440.22 483.98,440.29 484.33,440.25 484.67,440.26 485.01,440.19 485.36,440.17 485.70,440.20 486.04,440.21 486.39,440.24 486.73,440.20 487.07,440.22 487.42,440.21 487.76,440.19 488.10,440.20 488.45,440.16 488.79,440.14 489.14,440.11 489.48,440.14 489.82,440.26 490.17,440.26 490.51,440.32 490.85,440.34 491.20,440.39 491.54,440.38 491.88,440.35 492.23,440.30 492.57,440.27 492.92,440.29 493.26,440.32 493.60,440.29 493.95,440.21 494.29,440.22 494.63,440.24 494.98,440.25 495.32,440.24 495.66,440.25 496.01,440.29 496.35,440.31 496.69,440.31 497.04,440.27 497.38,440.23 497.73,440.22 498.07,440.30 498.41,440.36 498.76,440.28 499.10,440.25 499.44,440.23 499.79,440.33 500.13,440.39 500.47,440.34 500.82,440.28 501.16,440.20 501.51,440.25 501.85,440.22 502.19,440.30 502.54,440.30 502.88,440.36 503.22,440.25 503.57,440.20 503.91,440.21 504.25,440.23 504.60,440.25 504.94,440.22 505.28,440.30 505.63,440.32 505.97,440.33 506.32,440.28 506.66,440.28 507.00,440.26 507.35,440.30 507.69,440.30 508.03,440.34 508.38,440.26 508.72,440.30 509.06,440.26 509.41,440.36 509.75,440.32 510.10,440.36 510.44,440.37 510.78,440.35 511.13,440.32 511.47,440.27 511.81,440.29 512.16,440.24 512.50,440.24 512.84,440.22 513.19,440.25 513.53,440.25 513.87,440.21 514.22,440.28 514.56,440.30 514.91,440.42 515.25,440.34 515.59,440.29 515.94,440.24 516.28,440.27 L516.28,449 Z" fill="#fff" stroke="#9a68c8" stroke-width="1.3" stroke-linejoin="miter"/>
<text x="306" y="437.5" font-family="'Liberation Sans', sans-serif" font-size="11.8" fill="#6c3ca8" stroke="#6c3ca8" stroke-width="0.25">10<tspan font-size="6.8" dy="-4.6" stroke-width="0.05">-13</tspan><tspan dy="4.6" dx="1"> M</tspan></text>
<line x1="327.30" y1="449" x2="327.30" y2="452.5" stroke="#222" stroke-width="1.2"/>
<text x="327.30" y="466" font-family="'Liberation Serif', serif" font-weight="bold" stroke="#111" stroke-width="0.25" font-size="12" text-anchor="middle" fill="#111">600</text>
<line x1="344.48" y1="449" x2="344.48" y2="451" stroke="#222" stroke-width="1.2"/>
<line x1="361.66" y1="449" x2="361.66" y2="452.5" stroke="#222" stroke-width="1.2"/>
<text x="361.66" y="466" font-family="'Liberation Serif', serif" font-weight="bold" stroke="#111" stroke-width="0.25" font-size="12" text-anchor="middle" fill="#111">800</text>
<line x1="378.84" y1="449" x2="378.84" y2="451" stroke="#222" stroke-width="1.2"/>
<line x1="396.02" y1="449" x2="396.02" y2="452.5" stroke="#222" stroke-width="1.2"/>
<text x="396.02" y="466" font-family="'Liberation Serif', serif" font-weight="bold" stroke="#111" stroke-width="0.25" font-size="12" text-anchor="middle" fill="#111">1000</text>
<line x1="413.20" y1="449" x2="413.20" y2="451" stroke="#222" stroke-width="1.2"/>
<line x1="430.38" y1="449" x2="430.38" y2="452.5" stroke="#222" stroke-width="1.2"/>
<text x="430.38" y="466" font-family="'Liberation Serif', serif" font-weight="bold" stroke="#111" stroke-width="0.25" font-size="12" text-anchor="middle" fill="#111">1200</text>
<line x1="447.56" y1="449" x2="447.56" y2="451" stroke="#222" stroke-width="1.2"/>
<line x1="464.74" y1="449" x2="464.74" y2="452.5" stroke="#222" stroke-width="1.2"/>
<text x="464.74" y="466" font-family="'Liberation Serif', serif" font-weight="bold" stroke="#111" stroke-width="0.25" font-size="12" text-anchor="middle" fill="#111">1400</text>
<line x1="481.92" y1="449" x2="481.92" y2="451" stroke="#222" stroke-width="1.2"/>
<line x1="499.10" y1="449" x2="499.10" y2="452.5" stroke="#222" stroke-width="1.2"/>
<text x="499.10" y="466" font-family="'Liberation Serif', serif" font-weight="bold" stroke="#111" stroke-width="0.25" font-size="12" text-anchor="middle" fill="#111">1600</text>
<line x1="516.28" y1="449" x2="516.28" y2="451" stroke="#222" stroke-width="1.2"/>
</svg></body></html>
